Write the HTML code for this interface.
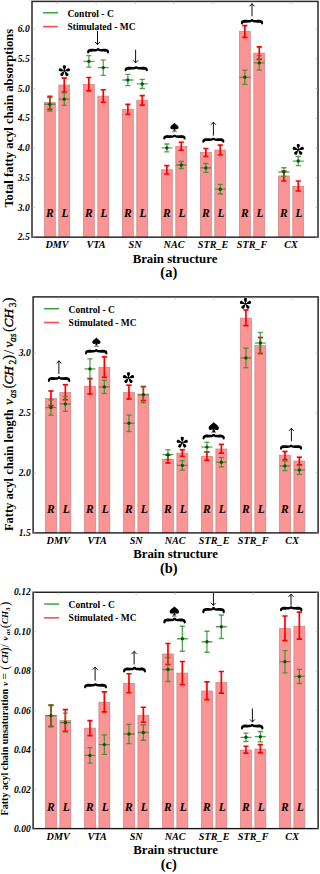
<!DOCTYPE html><html><head><meta charset="utf-8"><style>html,body{margin:0;padding:0;background:#fff;overflow:hidden;width:320px;height:874px;}svg{display:block;}</style></head><body>
<svg width="320" height="874" viewBox="0 0 320 874">
<rect x="0" y="0" width="320" height="874" fill="#fff"/>
<clipPath id="clipa"><rect x="32" y="1.4" width="286" height="235.75"/></clipPath>
<g clip-path="url(#clipa)">
<rect x="44.4" y="102.5" width="10.9" height="136.65" fill="#fb9595" stroke="#c98282" stroke-width="0.7"/>
<rect x="58.8" y="85" width="10.9" height="154.15" fill="#fb9595" stroke="#c98282" stroke-width="0.7"/>
<rect x="83.4" y="84.4" width="10.9" height="154.75" fill="#fb9595" stroke="#c98282" stroke-width="0.7"/>
<rect x="97.8" y="96.1" width="10.9" height="143.05" fill="#fb9595" stroke="#c98282" stroke-width="0.7"/>
<rect x="122.4" y="109.4" width="10.9" height="129.75" fill="#fb9595" stroke="#c98282" stroke-width="0.7"/>
<rect x="136.8" y="100.25" width="10.9" height="138.9" fill="#fb9595" stroke="#c98282" stroke-width="0.7"/>
<rect x="161.4" y="169.75" width="10.9" height="69.4" fill="#fb9595" stroke="#c98282" stroke-width="0.7"/>
<rect x="175.8" y="146.25" width="10.9" height="92.9" fill="#fb9595" stroke="#c98282" stroke-width="0.7"/>
<rect x="200.4" y="152.5" width="10.9" height="86.65" fill="#fb9595" stroke="#c98282" stroke-width="0.7"/>
<rect x="214.8" y="150" width="10.9" height="89.15" fill="#fb9595" stroke="#c98282" stroke-width="0.7"/>
<rect x="239.4" y="31.4" width="10.9" height="207.75" fill="#fb9595" stroke="#c98282" stroke-width="0.7"/>
<rect x="253.8" y="53.1" width="10.9" height="186.05" fill="#fb9595" stroke="#c98282" stroke-width="0.7"/>
<rect x="278.4" y="176" width="10.9" height="63.15" fill="#fb9595" stroke="#c98282" stroke-width="0.7"/>
<rect x="292.8" y="186.25" width="10.9" height="52.9" fill="#fb9595" stroke="#c98282" stroke-width="0.7"/>
<text x="49.85" y="216.9" font-family='"Liberation Serif", serif' font-weight="bold" font-style="italic" font-size="11.5" text-anchor="middle">R</text>
<text x="65.05" y="216.9" font-family='"Liberation Serif", serif' font-weight="bold" font-style="italic" font-size="11.5" text-anchor="middle">L</text>
<text x="88.85" y="216.9" font-family='"Liberation Serif", serif' font-weight="bold" font-style="italic" font-size="11.5" text-anchor="middle">R</text>
<text x="104.05" y="216.9" font-family='"Liberation Serif", serif' font-weight="bold" font-style="italic" font-size="11.5" text-anchor="middle">L</text>
<text x="127.85" y="216.9" font-family='"Liberation Serif", serif' font-weight="bold" font-style="italic" font-size="11.5" text-anchor="middle">R</text>
<text x="143.05" y="216.9" font-family='"Liberation Serif", serif' font-weight="bold" font-style="italic" font-size="11.5" text-anchor="middle">L</text>
<text x="166.85" y="216.9" font-family='"Liberation Serif", serif' font-weight="bold" font-style="italic" font-size="11.5" text-anchor="middle">R</text>
<text x="182.05" y="216.9" font-family='"Liberation Serif", serif' font-weight="bold" font-style="italic" font-size="11.5" text-anchor="middle">L</text>
<text x="205.85" y="216.9" font-family='"Liberation Serif", serif' font-weight="bold" font-style="italic" font-size="11.5" text-anchor="middle">R</text>
<text x="221.05" y="216.9" font-family='"Liberation Serif", serif' font-weight="bold" font-style="italic" font-size="11.5" text-anchor="middle">L</text>
<text x="244.85" y="216.9" font-family='"Liberation Serif", serif' font-weight="bold" font-style="italic" font-size="11.5" text-anchor="middle">R</text>
<text x="260.05" y="216.9" font-family='"Liberation Serif", serif' font-weight="bold" font-style="italic" font-size="11.5" text-anchor="middle">L</text>
<text x="283.85" y="216.9" font-family='"Liberation Serif", serif' font-weight="bold" font-style="italic" font-size="11.5" text-anchor="middle">R</text>
<text x="299.05" y="216.9" font-family='"Liberation Serif", serif' font-weight="bold" font-style="italic" font-size="11.5" text-anchor="middle">L</text>
<g stroke="#ff0000" stroke-width="1.7"><line x1="49.85" y1="96.35" x2="49.85" y2="109.25"/><line x1="47.25" y1="96.35" x2="52.45" y2="96.35"/><line x1="47.25" y1="109.25" x2="52.45" y2="109.25"/></g>
<g stroke="#ff0000" stroke-width="1.7"><line x1="64.25" y1="78.2" x2="64.25" y2="92"/><line x1="61.65" y1="78.2" x2="66.85" y2="78.2"/><line x1="61.65" y1="92" x2="66.85" y2="92"/></g>
<g stroke="#2a8f2a" stroke-width="1.3" stroke-opacity="0.8"><line x1="49.85" y1="97.5" x2="49.85" y2="111"/><line x1="47.25" y1="97.5" x2="52.45" y2="97.5"/><line x1="47.25" y1="111" x2="52.45" y2="111"/><line x1="44.4" y1="104.25" x2="55.3" y2="104.25"/></g><circle cx="49.85" cy="104.25" r="1.7" fill="#005a00"/>
<g stroke="#2a8f2a" stroke-width="1.3" stroke-opacity="0.8"><line x1="64.25" y1="92.9" x2="64.25" y2="105.4"/><line x1="61.65" y1="92.9" x2="66.85" y2="92.9"/><line x1="61.65" y1="105.4" x2="66.85" y2="105.4"/><line x1="58.8" y1="99.15" x2="69.7" y2="99.15"/></g><circle cx="64.25" cy="99.15" r="1.7" fill="#005a00"/>
<g stroke="#ff0000" stroke-width="1.7"><line x1="88.85" y1="77.5" x2="88.85" y2="90.8"/><line x1="86.25" y1="77.5" x2="91.45" y2="77.5"/><line x1="86.25" y1="90.8" x2="91.45" y2="90.8"/></g>
<g stroke="#ff0000" stroke-width="1.7"><line x1="103.25" y1="89.75" x2="103.25" y2="102.25"/><line x1="100.65" y1="89.75" x2="105.85" y2="89.75"/><line x1="100.65" y1="102.25" x2="105.85" y2="102.25"/></g>
<g stroke="#2a8f2a" stroke-width="1.3" stroke-opacity="0.8"><line x1="88.85" y1="55.6" x2="88.85" y2="67.2"/><line x1="86.25" y1="55.6" x2="91.45" y2="55.6"/><line x1="86.25" y1="67.2" x2="91.45" y2="67.2"/><line x1="83.4" y1="61.4" x2="94.3" y2="61.4"/></g><circle cx="88.85" cy="61.4" r="1.7" fill="#005a00"/>
<g stroke="#2a8f2a" stroke-width="1.3" stroke-opacity="0.8"><line x1="103.25" y1="59.9" x2="103.25" y2="75.3"/><line x1="100.65" y1="59.9" x2="105.85" y2="59.9"/><line x1="100.65" y1="75.3" x2="105.85" y2="75.3"/><line x1="97.8" y1="67.6" x2="108.7" y2="67.6"/></g><circle cx="103.25" cy="67.6" r="1.7" fill="#005a00"/>
<g stroke="#ff0000" stroke-width="1.7"><line x1="127.85" y1="104.4" x2="127.85" y2="114.4"/><line x1="125.25" y1="104.4" x2="130.45" y2="104.4"/><line x1="125.25" y1="114.4" x2="130.45" y2="114.4"/></g>
<g stroke="#ff0000" stroke-width="1.7"><line x1="142.25" y1="95.6" x2="142.25" y2="105.2"/><line x1="139.65" y1="95.6" x2="144.85" y2="95.6"/><line x1="139.65" y1="105.2" x2="144.85" y2="105.2"/></g>
<g stroke="#2a8f2a" stroke-width="1.3" stroke-opacity="0.8"><line x1="127.85" y1="74.4" x2="127.85" y2="85.6"/><line x1="125.25" y1="74.4" x2="130.45" y2="74.4"/><line x1="125.25" y1="85.6" x2="130.45" y2="85.6"/><line x1="122.4" y1="80" x2="133.3" y2="80"/></g><circle cx="127.85" cy="80" r="1.7" fill="#005a00"/>
<g stroke="#2a8f2a" stroke-width="1.3" stroke-opacity="0.8"><line x1="142.25" y1="79.4" x2="142.25" y2="88.5"/><line x1="139.65" y1="79.4" x2="144.85" y2="79.4"/><line x1="139.65" y1="88.5" x2="144.85" y2="88.5"/><line x1="136.8" y1="83.95" x2="147.7" y2="83.95"/></g><circle cx="142.25" cy="83.95" r="1.7" fill="#005a00"/>
<g stroke="#ff0000" stroke-width="1.7"><line x1="166.85" y1="165.6" x2="166.85" y2="174"/><line x1="164.25" y1="165.6" x2="169.45" y2="165.6"/><line x1="164.25" y1="174" x2="169.45" y2="174"/></g>
<g stroke="#ff0000" stroke-width="1.7"><line x1="181.25" y1="142.25" x2="181.25" y2="150.25"/><line x1="178.65" y1="142.25" x2="183.85" y2="142.25"/><line x1="178.65" y1="150.25" x2="183.85" y2="150.25"/></g>
<g stroke="#2a8f2a" stroke-width="1.3" stroke-opacity="0.8"><line x1="166.85" y1="144" x2="166.85" y2="151.9"/><line x1="164.25" y1="144" x2="169.45" y2="144"/><line x1="164.25" y1="151.9" x2="169.45" y2="151.9"/><line x1="161.4" y1="147.95" x2="172.3" y2="147.95"/></g><circle cx="166.85" cy="147.95" r="1.7" fill="#005a00"/>
<g stroke="#2a8f2a" stroke-width="1.3" stroke-opacity="0.8"><line x1="181.25" y1="161.5" x2="181.25" y2="168.5"/><line x1="178.65" y1="161.5" x2="183.85" y2="161.5"/><line x1="178.65" y1="168.5" x2="183.85" y2="168.5"/><line x1="175.8" y1="165" x2="186.7" y2="165"/></g><circle cx="181.25" cy="165" r="1.7" fill="#005a00"/>
<g stroke="#ff0000" stroke-width="1.7"><line x1="205.85" y1="148.5" x2="205.85" y2="156.5"/><line x1="203.25" y1="148.5" x2="208.45" y2="148.5"/><line x1="203.25" y1="156.5" x2="208.45" y2="156.5"/></g>
<g stroke="#ff0000" stroke-width="1.7"><line x1="220.25" y1="145.2" x2="220.25" y2="155"/><line x1="217.65" y1="145.2" x2="222.85" y2="145.2"/><line x1="217.65" y1="155" x2="222.85" y2="155"/></g>
<g stroke="#2a8f2a" stroke-width="1.3" stroke-opacity="0.8"><line x1="205.85" y1="163.5" x2="205.85" y2="172.3"/><line x1="203.25" y1="163.5" x2="208.45" y2="163.5"/><line x1="203.25" y1="172.3" x2="208.45" y2="172.3"/><line x1="200.4" y1="167.9" x2="211.3" y2="167.9"/></g><circle cx="205.85" cy="167.9" r="1.7" fill="#005a00"/>
<g stroke="#2a8f2a" stroke-width="1.3" stroke-opacity="0.8"><line x1="220.25" y1="184.4" x2="220.25" y2="194"/><line x1="217.65" y1="184.4" x2="222.85" y2="184.4"/><line x1="217.65" y1="194" x2="222.85" y2="194"/><line x1="214.8" y1="189.2" x2="225.7" y2="189.2"/></g><circle cx="220.25" cy="189.2" r="1.7" fill="#005a00"/>
<g stroke="#ff0000" stroke-width="1.7"><line x1="244.85" y1="25.6" x2="244.85" y2="37.4"/><line x1="242.25" y1="25.6" x2="247.45" y2="25.6"/><line x1="242.25" y1="37.4" x2="247.45" y2="37.4"/></g>
<g stroke="#ff0000" stroke-width="1.7"><line x1="259.25" y1="46.9" x2="259.25" y2="59.4"/><line x1="256.65" y1="46.9" x2="261.85" y2="46.9"/><line x1="256.65" y1="59.4" x2="261.85" y2="59.4"/></g>
<g stroke="#2a8f2a" stroke-width="1.3" stroke-opacity="0.8"><line x1="244.85" y1="70.2" x2="244.85" y2="84.4"/><line x1="242.25" y1="70.2" x2="247.45" y2="70.2"/><line x1="242.25" y1="84.4" x2="247.45" y2="84.4"/><line x1="239.4" y1="77.3" x2="250.3" y2="77.3"/></g><circle cx="244.85" cy="77.3" r="1.7" fill="#005a00"/>
<g stroke="#2a8f2a" stroke-width="1.3" stroke-opacity="0.8"><line x1="259.25" y1="55.6" x2="259.25" y2="70.2"/><line x1="256.65" y1="55.6" x2="261.85" y2="55.6"/><line x1="256.65" y1="70.2" x2="261.85" y2="70.2"/><line x1="253.8" y1="62.9" x2="264.7" y2="62.9"/></g><circle cx="259.25" cy="62.9" r="1.7" fill="#005a00"/>
<g stroke="#ff0000" stroke-width="1.7"><line x1="283.85" y1="171" x2="283.85" y2="181"/><line x1="281.25" y1="171" x2="286.45" y2="171"/><line x1="281.25" y1="181" x2="286.45" y2="181"/></g>
<g stroke="#ff0000" stroke-width="1.7"><line x1="298.25" y1="181" x2="298.25" y2="191"/><line x1="295.65" y1="181" x2="300.85" y2="181"/><line x1="295.65" y1="191" x2="300.85" y2="191"/></g>
<g stroke="#2a8f2a" stroke-width="1.3" stroke-opacity="0.8"><line x1="283.85" y1="167.75" x2="283.85" y2="176.25"/><line x1="281.25" y1="167.75" x2="286.45" y2="167.75"/><line x1="281.25" y1="176.25" x2="286.45" y2="176.25"/><line x1="278.4" y1="172" x2="289.3" y2="172"/></g><circle cx="283.85" cy="172" r="1.7" fill="#005a00"/>
<g stroke="#2a8f2a" stroke-width="1.3" stroke-opacity="0.8"><line x1="298.25" y1="156.5" x2="298.25" y2="165.6"/><line x1="295.65" y1="156.5" x2="300.85" y2="156.5"/><line x1="295.65" y1="165.6" x2="300.85" y2="165.6"/><line x1="292.8" y1="161.05" x2="303.7" y2="161.05"/></g><circle cx="298.25" cy="161.05" r="1.7" fill="#005a00"/>
<g transform="translate(64.4,71.1)"><path transform="rotate(0)" d="M0,0 C-0.5,-1.5 -1.6,-3.2 -1.6,-4.4 C-1.6,-5.3 -0.8,-5.8 0,-5.8 C0.8,-5.8 1.6,-5.3 1.6,-4.4 C1.6,-3.2 0.5,-1.5 0,0Z" fill="#000"/><path transform="rotate(72)" d="M0,0 C-0.5,-1.5 -1.6,-3.2 -1.6,-4.4 C-1.6,-5.3 -0.8,-5.8 0,-5.8 C0.8,-5.8 1.6,-5.3 1.6,-4.4 C1.6,-3.2 0.5,-1.5 0,0Z" fill="#000"/><path transform="rotate(144)" d="M0,0 C-0.5,-1.5 -1.6,-3.2 -1.6,-4.4 C-1.6,-5.3 -0.8,-5.8 0,-5.8 C0.8,-5.8 1.6,-5.3 1.6,-4.4 C1.6,-3.2 0.5,-1.5 0,0Z" fill="#000"/><path transform="rotate(216)" d="M0,0 C-0.5,-1.5 -1.6,-3.2 -1.6,-4.4 C-1.6,-5.3 -0.8,-5.8 0,-5.8 C0.8,-5.8 1.6,-5.3 1.6,-4.4 C1.6,-3.2 0.5,-1.5 0,0Z" fill="#000"/><path transform="rotate(288)" d="M0,0 C-0.5,-1.5 -1.6,-3.2 -1.6,-4.4 C-1.6,-5.3 -0.8,-5.8 0,-5.8 C0.8,-5.8 1.6,-5.3 1.6,-4.4 C1.6,-3.2 0.5,-1.5 0,0Z" fill="#000"/><circle r="0.9" fill="#000"/></g>
<line x1="97.5" y1="31" x2="97.5" y2="44.75" stroke="#000" stroke-width="0.95"/><path d="M95,41.95 L97.5,44.45 L100,41.95" fill="none" stroke="#000" stroke-width="0.95"/>
<g fill="#000"><path d="M89.15,52.59 L89.33,52.1 L89.52,51.92 L89.66,51.87 L89.78,51.83 L90.03,51.76 L90.43,51.7 L90.99,51.66 L91.72,51.64 L92.47,51.61 L92.98,51.59 L93.32,51.58 L93.61,51.57 L93.92,51.56 L94.31,51.53 L94.86,51.47 L95.66,51.39 L96.3,51.3 L96.95,51.13 L97.54,50.86 L98.06,50.5 L98.49,50.05 L98.82,49.51 L99.01,48.92 L99.04,48.41 L97.16,48.19 L97.1,48.47 L97.02,48.6 L96.92,48.71 L96.77,48.81 L96.56,48.9 L96.3,48.97 L95.98,49 L95.54,48.99 L94.78,48.96 L94.27,48.94 L93.94,48.91 L93.69,48.88 L93.42,48.85 L93.05,48.81 L92.5,48.77 L91.68,48.74 L90.79,48.77 L89.94,48.89 L89.14,49.13 L88.39,49.51 L87.74,50.08 L87.32,50.84 L87.18,51.67 L87.25,52.41Z"/><path d="M107.05,52.59 L106.87,52.1 L106.68,51.92 L106.54,51.87 L106.42,51.83 L106.17,51.76 L105.77,51.7 L105.21,51.66 L104.48,51.64 L103.73,51.61 L103.22,51.59 L102.88,51.58 L102.59,51.57 L102.28,51.56 L101.89,51.53 L101.34,51.47 L100.54,51.39 L99.9,51.3 L99.25,51.13 L98.66,50.86 L98.14,50.5 L97.71,50.05 L97.38,49.51 L97.19,48.92 L97.16,48.41 L99.04,48.19 L99.1,48.47 L99.18,48.6 L99.28,48.71 L99.43,48.81 L99.64,48.9 L99.9,48.97 L100.22,49 L100.66,48.99 L101.42,48.96 L101.93,48.94 L102.26,48.91 L102.51,48.88 L102.78,48.85 L103.15,48.81 L103.7,48.77 L104.52,48.74 L105.41,48.77 L106.26,48.89 L107.06,49.13 L107.81,49.51 L108.46,50.08 L108.88,50.84 L109.02,51.67 L108.95,52.41Z"/><circle cx="88.2" cy="52.5" r="0.95"/><circle cx="108" cy="52.5" r="0.95"/></g>
<line x1="135.6" y1="49.75" x2="135.6" y2="63.1" stroke="#000" stroke-width="0.95"/><path d="M133.1,60.3 L135.6,62.8 L138.1,60.3" fill="none" stroke="#000" stroke-width="0.95"/>
<g fill="#000"><path d="M126.6,70.45 L126.76,70.03 L126.92,69.9 L127.06,69.9 L127.19,69.85 L127.45,69.79 L127.87,69.73 L128.44,69.69 L129.17,69.68 L129.95,69.67 L130.54,69.65 L131.01,69.63 L131.42,69.62 L131.85,69.59 L132.35,69.56 L132.97,69.5 L133.81,69.41 L134.44,69.33 L135.08,69.16 L135.67,68.9 L136.18,68.57 L136.61,68.15 L136.94,67.66 L137.14,67.1 L137.19,66.63 L135.31,66.37 L135.26,66.59 L135.2,66.67 L135.1,66.76 L134.95,66.86 L134.73,66.96 L134.46,67.03 L134.13,67.06 L133.69,67.05 L132.9,67.02 L132.31,66.99 L131.86,66.96 L131.48,66.92 L131.08,66.88 L130.6,66.84 L129.98,66.8 L129.13,66.78 L128.24,66.82 L127.4,66.94 L126.61,67.17 L125.88,67.52 L125.24,68.04 L124.82,68.77 L124.65,69.56 L124.7,70.25Z"/><path d="M145.9,70.45 L145.74,70.03 L145.58,69.9 L145.44,69.9 L145.31,69.85 L145.05,69.79 L144.63,69.73 L144.06,69.69 L143.33,69.68 L142.55,69.67 L141.96,69.65 L141.49,69.63 L141.08,69.62 L140.65,69.59 L140.15,69.56 L139.53,69.5 L138.69,69.41 L138.06,69.33 L137.42,69.16 L136.83,68.9 L136.32,68.57 L135.89,68.15 L135.56,67.66 L135.36,67.1 L135.31,66.63 L137.19,66.37 L137.24,66.59 L137.3,66.67 L137.4,66.76 L137.55,66.86 L137.77,66.96 L138.04,67.03 L138.37,67.06 L138.81,67.05 L139.6,67.02 L140.19,66.99 L140.64,66.96 L141.02,66.92 L141.42,66.88 L141.9,66.84 L142.52,66.8 L143.37,66.78 L144.26,66.82 L145.1,66.94 L145.89,67.17 L146.62,67.52 L147.26,68.04 L147.68,68.77 L147.85,69.56 L147.8,70.25Z"/><circle cx="125.65" cy="70.35" r="0.95"/><circle cx="146.85" cy="70.35" r="0.95"/></g>
<g transform="translate(174.45,122.8) scale(1)"><path d="M0,0 C1.0,1.6 4.1,2.8 4.1,4.8 C4.1,6.6 2.0,7.0 0.5,5.9 L1.3,8.0 L-1.3,8.0 L-0.5,5.9 C-2.0,7.0 -4.1,6.6 -4.1,4.8 C-4.1,2.8 -1.0,1.6 0,0Z" fill="#000"/></g><path d="M172.05,131.7 L176.85,131.7" fill="none" stroke="#555" stroke-width="0.8"/>
<g fill="#000"><path d="M165.24,138.7 L165.41,138.32 L165.56,138.22 L165.69,138.23 L165.83,138.18 L166.09,138.12 L166.51,138.06 L167.09,138.03 L167.82,138.01 L168.58,138 L169.12,137.98 L169.51,137.96 L169.84,137.95 L170.19,137.93 L170.62,137.9 L171.2,137.84 L172.01,137.75 L172.64,137.67 L173.28,137.5 L173.86,137.25 L174.37,136.92 L174.79,136.51 L175.13,136.04 L175.34,135.49 L175.39,135.03 L173.51,134.77 L173.47,134.95 L173.41,135.01 L173.31,135.1 L173.16,135.2 L172.94,135.29 L172.66,135.36 L172.33,135.39 L171.89,135.38 L171.12,135.35 L170.58,135.32 L170.21,135.29 L169.91,135.26 L169.6,135.22 L169.18,135.18 L168.61,135.14 L167.78,135.12 L166.89,135.15 L166.05,135.27 L165.27,135.49 L164.55,135.83 L163.91,136.34 L163.48,137.05 L163.31,137.83 L163.36,138.5Z"/><path d="M183.66,138.7 L183.49,138.32 L183.34,138.22 L183.21,138.23 L183.07,138.18 L182.81,138.12 L182.39,138.06 L181.81,138.03 L181.08,138.01 L180.32,138 L179.78,137.98 L179.39,137.96 L179.06,137.95 L178.71,137.93 L178.28,137.9 L177.7,137.84 L176.89,137.75 L176.26,137.67 L175.62,137.5 L175.04,137.25 L174.53,136.92 L174.11,136.51 L173.77,136.04 L173.56,135.49 L173.51,135.03 L175.39,134.77 L175.43,134.95 L175.49,135.01 L175.59,135.1 L175.74,135.2 L175.96,135.29 L176.24,135.36 L176.57,135.39 L177.01,135.38 L177.78,135.35 L178.32,135.32 L178.69,135.29 L178.99,135.26 L179.3,135.22 L179.72,135.18 L180.29,135.14 L181.12,135.12 L182.01,135.15 L182.85,135.27 L183.63,135.49 L184.35,135.83 L184.99,136.34 L185.42,137.05 L185.59,137.83 L185.54,138.5Z"/><circle cx="164.3" cy="138.6" r="0.95"/><circle cx="184.6" cy="138.6" r="0.95"/></g>
<line x1="213.4" y1="121.9" x2="213.4" y2="135.6" stroke="#000" stroke-width="0.95"/><path d="M210.9,124.7 L213.4,122.2 L215.9,124.7" fill="none" stroke="#000" stroke-width="0.95"/>
<g fill="#000"><path d="M204.25,141.94 L204.43,141.48 L204.61,141.33 L204.74,141.3 L204.87,141.25 L205.12,141.19 L205.52,141.13 L206.09,141.09 L206.82,141.07 L207.57,141.05 L208.1,141.03 L208.47,141.02 L208.77,141 L209.1,140.99 L209.51,140.96 L210.08,140.9 L210.88,140.82 L211.52,140.73 L212.17,140.56 L212.75,140.29 L213.27,139.94 L213.7,139.51 L214.03,138.99 L214.23,138.41 L214.27,137.92 L212.38,137.68 L212.33,137.93 L212.26,138.04 L212.16,138.15 L212,138.25 L211.8,138.34 L211.53,138.41 L211.21,138.44 L210.77,138.43 L210,138.4 L209.47,138.37 L209.12,138.35 L208.85,138.32 L208.56,138.28 L208.17,138.24 L207.6,138.2 L206.78,138.18 L205.89,138.21 L205.04,138.33 L204.25,138.55 L203.51,138.92 L202.86,139.47 L202.44,140.22 L202.29,141.04 L202.35,141.76Z"/><path d="M222.4,141.94 L222.22,141.48 L222.04,141.33 L221.91,141.3 L221.78,141.25 L221.53,141.19 L221.13,141.13 L220.56,141.09 L219.83,141.07 L219.08,141.05 L218.55,141.03 L218.18,141.02 L217.88,141 L217.55,140.99 L217.14,140.96 L216.57,140.9 L215.77,140.82 L215.13,140.73 L214.48,140.56 L213.9,140.29 L213.38,139.94 L212.95,139.51 L212.62,138.99 L212.42,138.41 L212.38,137.92 L214.27,137.68 L214.32,137.93 L214.39,138.04 L214.49,138.15 L214.65,138.25 L214.85,138.34 L215.12,138.41 L215.44,138.44 L215.88,138.43 L216.65,138.4 L217.18,138.37 L217.53,138.35 L217.8,138.32 L218.09,138.28 L218.48,138.24 L219.05,138.2 L219.87,138.18 L220.76,138.21 L221.61,138.33 L222.4,138.55 L223.14,138.92 L223.79,139.47 L224.21,140.22 L224.36,141.04 L224.3,141.76Z"/><circle cx="203.3" cy="141.85" r="0.95"/><circle cx="223.35" cy="141.85" r="0.95"/></g>
<line x1="252" y1="3.5" x2="252" y2="16.25" stroke="#000" stroke-width="0.95"/><path d="M249.5,6.3 L252,3.8 L254.5,6.3" fill="none" stroke="#000" stroke-width="0.95"/>
<g fill="#000"><path d="M242.85,23.59 L243.03,23.12 L243.21,22.95 L243.35,22.92 L243.47,22.88 L243.72,22.81 L244.12,22.75 L244.69,22.71 L245.42,22.69 L246.18,22.67 L246.71,22.65 L247.09,22.64 L247.41,22.63 L247.75,22.61 L248.18,22.58 L248.75,22.52 L249.56,22.44 L250.2,22.35 L250.84,22.18 L251.43,21.91 L251.95,21.56 L252.38,21.12 L252.71,20.6 L252.9,20.01 L252.94,19.51 L251.06,19.29 L251.01,19.55 L250.93,19.66 L250.83,19.77 L250.67,19.87 L250.47,19.96 L250.2,20.03 L249.88,20.06 L249.44,20.05 L248.67,20.02 L248.14,20 L247.77,19.97 L247.49,19.94 L247.18,19.9 L246.78,19.87 L246.21,19.83 L245.38,19.8 L244.49,19.83 L243.64,19.95 L242.84,20.18 L242.1,20.55 L241.46,21.11 L241.04,21.86 L240.89,22.68 L240.95,23.41Z"/><path d="M261.15,23.59 L260.97,23.12 L260.79,22.95 L260.65,22.92 L260.53,22.88 L260.28,22.81 L259.88,22.75 L259.31,22.71 L258.58,22.69 L257.82,22.67 L257.29,22.65 L256.91,22.64 L256.59,22.63 L256.25,22.61 L255.82,22.58 L255.25,22.52 L254.44,22.44 L253.8,22.35 L253.16,22.18 L252.57,21.91 L252.05,21.56 L251.62,21.12 L251.29,20.6 L251.1,20.01 L251.06,19.51 L252.94,19.29 L252.99,19.55 L253.07,19.66 L253.17,19.77 L253.33,19.87 L253.53,19.96 L253.8,20.03 L254.12,20.06 L254.56,20.05 L255.33,20.02 L255.86,20 L256.23,19.97 L256.51,19.94 L256.82,19.9 L257.22,19.87 L257.79,19.83 L258.62,19.8 L259.51,19.83 L260.36,19.95 L261.16,20.18 L261.9,20.55 L262.54,21.11 L262.96,21.86 L263.11,22.68 L263.05,23.41Z"/><circle cx="241.9" cy="23.5" r="0.95"/><circle cx="262.1" cy="23.5" r="0.95"/></g>
<g transform="translate(298.25,149.7)"><path transform="rotate(0)" d="M0,0 C-0.5,-1.5 -1.6,-3.2 -1.6,-4.4 C-1.6,-5.3 -0.8,-5.8 0,-5.8 C0.8,-5.8 1.6,-5.3 1.6,-4.4 C1.6,-3.2 0.5,-1.5 0,0Z" fill="#000"/><path transform="rotate(72)" d="M0,0 C-0.5,-1.5 -1.6,-3.2 -1.6,-4.4 C-1.6,-5.3 -0.8,-5.8 0,-5.8 C0.8,-5.8 1.6,-5.3 1.6,-4.4 C1.6,-3.2 0.5,-1.5 0,0Z" fill="#000"/><path transform="rotate(144)" d="M0,0 C-0.5,-1.5 -1.6,-3.2 -1.6,-4.4 C-1.6,-5.3 -0.8,-5.8 0,-5.8 C0.8,-5.8 1.6,-5.3 1.6,-4.4 C1.6,-3.2 0.5,-1.5 0,0Z" fill="#000"/><path transform="rotate(216)" d="M0,0 C-0.5,-1.5 -1.6,-3.2 -1.6,-4.4 C-1.6,-5.3 -0.8,-5.8 0,-5.8 C0.8,-5.8 1.6,-5.3 1.6,-4.4 C1.6,-3.2 0.5,-1.5 0,0Z" fill="#000"/><path transform="rotate(288)" d="M0,0 C-0.5,-1.5 -1.6,-3.2 -1.6,-4.4 C-1.6,-5.3 -0.8,-5.8 0,-5.8 C0.8,-5.8 1.6,-5.3 1.6,-4.4 C1.6,-3.2 0.5,-1.5 0,0Z" fill="#000"/><circle r="0.9" fill="#000"/></g>
</g>
<line x1="43" y1="12.8" x2="58" y2="12.8" stroke="#2ca02c" stroke-width="1.4"/>
<line x1="43" y1="26.6" x2="58" y2="26.6" stroke="#ff4d4d" stroke-width="1.6"/>
<text x="67.5" y="16.6" font-family='"Liberation Serif", serif' font-weight="bold" font-size="9.5">Control - C</text>
<text x="67.5" y="29.9" font-family='"Liberation Serif", serif' font-weight="bold" font-size="9.5">Stimulated - MC</text>
<rect x="32" y="1.4" width="286" height="235.75" fill="none" stroke="#2a2a2a" stroke-width="1.5"/>
<line x1="57.05" y1="1.4" x2="57.05" y2="3.9" stroke="#999" stroke-width="0.6"/>
<line x1="57.05" y1="237.15" x2="57.05" y2="234.65" stroke="#999" stroke-width="0.6"/>
<line x1="96.05" y1="1.4" x2="96.05" y2="3.9" stroke="#999" stroke-width="0.6"/>
<line x1="96.05" y1="237.15" x2="96.05" y2="234.65" stroke="#999" stroke-width="0.6"/>
<line x1="135.05" y1="1.4" x2="135.05" y2="3.9" stroke="#999" stroke-width="0.6"/>
<line x1="135.05" y1="237.15" x2="135.05" y2="234.65" stroke="#999" stroke-width="0.6"/>
<line x1="174.05" y1="1.4" x2="174.05" y2="3.9" stroke="#999" stroke-width="0.6"/>
<line x1="174.05" y1="237.15" x2="174.05" y2="234.65" stroke="#999" stroke-width="0.6"/>
<line x1="213.05" y1="1.4" x2="213.05" y2="3.9" stroke="#999" stroke-width="0.6"/>
<line x1="213.05" y1="237.15" x2="213.05" y2="234.65" stroke="#999" stroke-width="0.6"/>
<line x1="252.05" y1="1.4" x2="252.05" y2="3.9" stroke="#999" stroke-width="0.6"/>
<line x1="252.05" y1="237.15" x2="252.05" y2="234.65" stroke="#999" stroke-width="0.6"/>
<line x1="291.05" y1="1.4" x2="291.05" y2="3.9" stroke="#999" stroke-width="0.6"/>
<line x1="291.05" y1="237.15" x2="291.05" y2="234.65" stroke="#999" stroke-width="0.6"/>
<line x1="32" y1="29.06" x2="34.5" y2="29.06" stroke="#999" stroke-width="0.6"/>
<line x1="318" y1="29.06" x2="315.5" y2="29.06" stroke="#999" stroke-width="0.6"/>
<text x="29.7" y="32.21" font-family='"Liberation Serif", serif' font-weight="bold" font-style="italic" font-size="9.6" text-anchor="end">6.0</text>
<line x1="32" y1="58.8" x2="34.5" y2="58.8" stroke="#999" stroke-width="0.6"/>
<line x1="318" y1="58.8" x2="315.5" y2="58.8" stroke="#999" stroke-width="0.6"/>
<text x="29.7" y="61.95" font-family='"Liberation Serif", serif' font-weight="bold" font-style="italic" font-size="9.6" text-anchor="end">5.5</text>
<line x1="32" y1="88.5" x2="34.5" y2="88.5" stroke="#999" stroke-width="0.6"/>
<line x1="318" y1="88.5" x2="315.5" y2="88.5" stroke="#999" stroke-width="0.6"/>
<text x="29.7" y="91.65" font-family='"Liberation Serif", serif' font-weight="bold" font-style="italic" font-size="9.6" text-anchor="end">5.0</text>
<line x1="32" y1="118.2" x2="34.5" y2="118.2" stroke="#999" stroke-width="0.6"/>
<line x1="318" y1="118.2" x2="315.5" y2="118.2" stroke="#999" stroke-width="0.6"/>
<text x="29.7" y="121.35" font-family='"Liberation Serif", serif' font-weight="bold" font-style="italic" font-size="9.6" text-anchor="end">4.5</text>
<line x1="32" y1="148" x2="34.5" y2="148" stroke="#999" stroke-width="0.6"/>
<line x1="318" y1="148" x2="315.5" y2="148" stroke="#999" stroke-width="0.6"/>
<text x="29.7" y="151.15" font-family='"Liberation Serif", serif' font-weight="bold" font-style="italic" font-size="9.6" text-anchor="end">4.0</text>
<line x1="32" y1="177.7" x2="34.5" y2="177.7" stroke="#999" stroke-width="0.6"/>
<line x1="318" y1="177.7" x2="315.5" y2="177.7" stroke="#999" stroke-width="0.6"/>
<text x="29.7" y="180.85" font-family='"Liberation Serif", serif' font-weight="bold" font-style="italic" font-size="9.6" text-anchor="end">3.5</text>
<line x1="32" y1="207.4" x2="34.5" y2="207.4" stroke="#999" stroke-width="0.6"/>
<line x1="318" y1="207.4" x2="315.5" y2="207.4" stroke="#999" stroke-width="0.6"/>
<text x="29.7" y="210.55" font-family='"Liberation Serif", serif' font-weight="bold" font-style="italic" font-size="9.6" text-anchor="end">3.0</text>
<line x1="32" y1="237.15" x2="34.5" y2="237.15" stroke="#999" stroke-width="0.6"/>
<line x1="318" y1="237.15" x2="315.5" y2="237.15" stroke="#999" stroke-width="0.6"/>
<text x="29.7" y="240.3" font-family='"Liberation Serif", serif' font-weight="bold" font-style="italic" font-size="9.6" text-anchor="end">2.5</text>
<text x="57.05" y="248.3" font-family='"Liberation Serif", serif' font-weight="bold" font-style="italic" font-size="10.2" text-anchor="middle">DMV</text>
<text x="96.05" y="248.3" font-family='"Liberation Serif", serif' font-weight="bold" font-style="italic" font-size="10.2" text-anchor="middle">VTA</text>
<text x="135.05" y="248.3" font-family='"Liberation Serif", serif' font-weight="bold" font-style="italic" font-size="10.2" text-anchor="middle">SN</text>
<text x="174.05" y="248.3" font-family='"Liberation Serif", serif' font-weight="bold" font-style="italic" font-size="10.2" text-anchor="middle">NAC</text>
<text x="213.05" y="248.3" font-family='"Liberation Serif", serif' font-weight="bold" font-style="italic" font-size="10.2" text-anchor="middle">STR_E</text>
<text x="252.05" y="248.3" font-family='"Liberation Serif", serif' font-weight="bold" font-style="italic" font-size="10.2" text-anchor="middle">STR_F</text>
<text x="291.05" y="248.3" font-family='"Liberation Serif", serif' font-weight="bold" font-style="italic" font-size="10.2" text-anchor="middle">CX</text>
<text x="175" y="262.55" font-family='"Liberation Serif", serif' font-weight="bold" font-size="12.8" text-anchor="middle">Brain structure</text>
<text x="168.8" y="277.45" font-family='"Liberation Serif", serif' font-weight="bold" font-size="14.5" text-anchor="middle">(a)</text>
<clipPath id="clipb"><rect x="33.1" y="296.9" width="285" height="236"/></clipPath>
<g clip-path="url(#clipb)">
<rect x="45.5" y="398.5" width="10.9" height="136.4" fill="#fb9595" stroke="#c98282" stroke-width="0.7"/>
<rect x="59.9" y="392.5" width="10.9" height="142.4" fill="#fb9595" stroke="#c98282" stroke-width="0.7"/>
<rect x="84.5" y="386.25" width="10.9" height="148.65" fill="#fb9595" stroke="#c98282" stroke-width="0.7"/>
<rect x="98.9" y="367.25" width="10.9" height="167.65" fill="#fb9595" stroke="#c98282" stroke-width="0.7"/>
<rect x="123.5" y="392.25" width="10.9" height="142.65" fill="#fb9595" stroke="#c98282" stroke-width="0.7"/>
<rect x="137.9" y="394" width="10.9" height="140.9" fill="#fb9595" stroke="#c98282" stroke-width="0.7"/>
<rect x="162.5" y="459.4" width="10.9" height="75.5" fill="#fb9595" stroke="#c98282" stroke-width="0.7"/>
<rect x="176.9" y="453.1" width="10.9" height="81.8" fill="#fb9595" stroke="#c98282" stroke-width="0.7"/>
<rect x="201.5" y="456.25" width="10.9" height="78.65" fill="#fb9595" stroke="#c98282" stroke-width="0.7"/>
<rect x="215.9" y="449" width="10.9" height="85.9" fill="#fb9595" stroke="#c98282" stroke-width="0.7"/>
<rect x="240.5" y="318.1" width="10.9" height="216.8" fill="#fb9595" stroke="#c98282" stroke-width="0.7"/>
<rect x="254.9" y="345.6" width="10.9" height="189.3" fill="#fb9595" stroke="#c98282" stroke-width="0.7"/>
<rect x="279.5" y="455.25" width="10.9" height="79.65" fill="#fb9595" stroke="#c98282" stroke-width="0.7"/>
<rect x="293.9" y="461" width="10.9" height="73.9" fill="#fb9595" stroke="#c98282" stroke-width="0.7"/>
<text x="50.95" y="513.1" font-family='"Liberation Serif", serif' font-weight="bold" font-style="italic" font-size="11.5" text-anchor="middle">R</text>
<text x="66.15" y="513.1" font-family='"Liberation Serif", serif' font-weight="bold" font-style="italic" font-size="11.5" text-anchor="middle">L</text>
<text x="89.95" y="513.1" font-family='"Liberation Serif", serif' font-weight="bold" font-style="italic" font-size="11.5" text-anchor="middle">R</text>
<text x="105.15" y="513.1" font-family='"Liberation Serif", serif' font-weight="bold" font-style="italic" font-size="11.5" text-anchor="middle">L</text>
<text x="128.95" y="513.1" font-family='"Liberation Serif", serif' font-weight="bold" font-style="italic" font-size="11.5" text-anchor="middle">R</text>
<text x="144.15" y="513.1" font-family='"Liberation Serif", serif' font-weight="bold" font-style="italic" font-size="11.5" text-anchor="middle">L</text>
<text x="167.95" y="513.1" font-family='"Liberation Serif", serif' font-weight="bold" font-style="italic" font-size="11.5" text-anchor="middle">R</text>
<text x="183.15" y="513.1" font-family='"Liberation Serif", serif' font-weight="bold" font-style="italic" font-size="11.5" text-anchor="middle">L</text>
<text x="206.95" y="513.1" font-family='"Liberation Serif", serif' font-weight="bold" font-style="italic" font-size="11.5" text-anchor="middle">R</text>
<text x="222.15" y="513.1" font-family='"Liberation Serif", serif' font-weight="bold" font-style="italic" font-size="11.5" text-anchor="middle">L</text>
<text x="245.95" y="513.1" font-family='"Liberation Serif", serif' font-weight="bold" font-style="italic" font-size="11.5" text-anchor="middle">R</text>
<text x="261.15" y="513.1" font-family='"Liberation Serif", serif' font-weight="bold" font-style="italic" font-size="11.5" text-anchor="middle">L</text>
<text x="284.95" y="513.1" font-family='"Liberation Serif", serif' font-weight="bold" font-style="italic" font-size="11.5" text-anchor="middle">R</text>
<text x="300.15" y="513.1" font-family='"Liberation Serif", serif' font-weight="bold" font-style="italic" font-size="11.5" text-anchor="middle">L</text>
<g stroke="#ff0000" stroke-width="1.7"><line x1="50.95" y1="391" x2="50.95" y2="405.6"/><line x1="48.35" y1="391" x2="53.55" y2="391"/><line x1="48.35" y1="405.6" x2="53.55" y2="405.6"/></g>
<g stroke="#ff0000" stroke-width="1.7"><line x1="65.35" y1="384.75" x2="65.35" y2="399.75"/><line x1="62.75" y1="384.75" x2="67.95" y2="384.75"/><line x1="62.75" y1="399.75" x2="67.95" y2="399.75"/></g>
<g stroke="#2a8f2a" stroke-width="1.3" stroke-opacity="0.8"><line x1="50.95" y1="399.75" x2="50.95" y2="415.25"/><line x1="48.35" y1="399.75" x2="53.55" y2="399.75"/><line x1="48.35" y1="415.25" x2="53.55" y2="415.25"/><line x1="45.5" y1="407.5" x2="56.4" y2="407.5"/></g><circle cx="50.95" cy="407.5" r="1.7" fill="#005a00"/>
<g stroke="#2a8f2a" stroke-width="1.3" stroke-opacity="0.8"><line x1="65.35" y1="396.5" x2="65.35" y2="411.3"/><line x1="62.75" y1="396.5" x2="67.95" y2="396.5"/><line x1="62.75" y1="411.3" x2="67.95" y2="411.3"/><line x1="59.9" y1="403.9" x2="70.8" y2="403.9"/></g><circle cx="65.35" cy="403.9" r="1.7" fill="#005a00"/>
<g stroke="#ff0000" stroke-width="1.7"><line x1="89.95" y1="378.5" x2="89.95" y2="394"/><line x1="87.35" y1="378.5" x2="92.55" y2="378.5"/><line x1="87.35" y1="394" x2="92.55" y2="394"/></g>
<g stroke="#ff0000" stroke-width="1.7"><line x1="104.35" y1="356.9" x2="104.35" y2="377.3"/><line x1="101.75" y1="356.9" x2="106.95" y2="356.9"/><line x1="101.75" y1="377.3" x2="106.95" y2="377.3"/></g>
<g stroke="#2a8f2a" stroke-width="1.3" stroke-opacity="0.8"><line x1="89.95" y1="358.8" x2="89.95" y2="379"/><line x1="87.35" y1="358.8" x2="92.55" y2="358.8"/><line x1="87.35" y1="379" x2="92.55" y2="379"/><line x1="84.5" y1="368.9" x2="95.4" y2="368.9"/></g><circle cx="89.95" cy="368.9" r="1.7" fill="#005a00"/>
<g stroke="#2a8f2a" stroke-width="1.3" stroke-opacity="0.8"><line x1="104.35" y1="380.3" x2="104.35" y2="393.5"/><line x1="101.75" y1="380.3" x2="106.95" y2="380.3"/><line x1="101.75" y1="393.5" x2="106.95" y2="393.5"/><line x1="98.9" y1="386.9" x2="109.8" y2="386.9"/></g><circle cx="104.35" cy="386.9" r="1.7" fill="#005a00"/>
<g stroke="#ff0000" stroke-width="1.7"><line x1="128.95" y1="385.2" x2="128.95" y2="399"/><line x1="126.35" y1="385.2" x2="131.55" y2="385.2"/><line x1="126.35" y1="399" x2="131.55" y2="399"/></g>
<g stroke="#ff0000" stroke-width="1.7"><line x1="143.35" y1="386.5" x2="143.35" y2="400.6"/><line x1="140.75" y1="386.5" x2="145.95" y2="386.5"/><line x1="140.75" y1="400.6" x2="145.95" y2="400.6"/></g>
<g stroke="#2a8f2a" stroke-width="1.3" stroke-opacity="0.8"><line x1="128.95" y1="415" x2="128.95" y2="431.5"/><line x1="126.35" y1="415" x2="131.55" y2="415"/><line x1="126.35" y1="431.5" x2="131.55" y2="431.5"/><line x1="123.5" y1="423.25" x2="134.4" y2="423.25"/></g><circle cx="128.95" cy="423.25" r="1.7" fill="#005a00"/>
<g stroke="#2a8f2a" stroke-width="1.3" stroke-opacity="0.8"><line x1="143.35" y1="386.9" x2="143.35" y2="402.7"/><line x1="140.75" y1="386.9" x2="145.95" y2="386.9"/><line x1="140.75" y1="402.7" x2="145.95" y2="402.7"/><line x1="137.9" y1="394.8" x2="148.8" y2="394.8"/></g><circle cx="143.35" cy="394.8" r="1.7" fill="#005a00"/>
<g stroke="#ff0000" stroke-width="1.7"><line x1="167.95" y1="455.2" x2="167.95" y2="463"/><line x1="165.35" y1="455.2" x2="170.55" y2="455.2"/><line x1="165.35" y1="463" x2="170.55" y2="463"/></g>
<g stroke="#ff0000" stroke-width="1.7"><line x1="182.35" y1="449.75" x2="182.35" y2="456.25"/><line x1="179.75" y1="449.75" x2="184.95" y2="449.75"/><line x1="179.75" y1="456.25" x2="184.95" y2="456.25"/></g>
<g stroke="#2a8f2a" stroke-width="1.3" stroke-opacity="0.8"><line x1="167.95" y1="449.8" x2="167.95" y2="459.4"/><line x1="165.35" y1="449.8" x2="170.55" y2="449.8"/><line x1="165.35" y1="459.4" x2="170.55" y2="459.4"/><line x1="162.5" y1="454.6" x2="173.4" y2="454.6"/></g><circle cx="167.95" cy="454.6" r="1.7" fill="#005a00"/>
<g stroke="#2a8f2a" stroke-width="1.3" stroke-opacity="0.8"><line x1="182.35" y1="460.6" x2="182.35" y2="470.2"/><line x1="179.75" y1="460.6" x2="184.95" y2="460.6"/><line x1="179.75" y1="470.2" x2="184.95" y2="470.2"/><line x1="176.9" y1="465.4" x2="187.8" y2="465.4"/></g><circle cx="182.35" cy="465.4" r="1.7" fill="#005a00"/>
<g stroke="#ff0000" stroke-width="1.7"><line x1="206.95" y1="451.9" x2="206.95" y2="460.3"/><line x1="204.35" y1="451.9" x2="209.55" y2="451.9"/><line x1="204.35" y1="460.3" x2="209.55" y2="460.3"/></g>
<g stroke="#ff0000" stroke-width="1.7"><line x1="221.35" y1="444.4" x2="221.35" y2="453.1"/><line x1="218.75" y1="444.4" x2="223.95" y2="444.4"/><line x1="218.75" y1="453.1" x2="223.95" y2="453.1"/></g>
<g stroke="#2a8f2a" stroke-width="1.3" stroke-opacity="0.8"><line x1="206.95" y1="442.3" x2="206.95" y2="451.9"/><line x1="204.35" y1="442.3" x2="209.55" y2="442.3"/><line x1="204.35" y1="451.9" x2="209.55" y2="451.9"/><line x1="201.5" y1="447.1" x2="212.4" y2="447.1"/></g><circle cx="206.95" cy="447.1" r="1.7" fill="#005a00"/>
<g stroke="#2a8f2a" stroke-width="1.3" stroke-opacity="0.8"><line x1="221.35" y1="457.5" x2="221.35" y2="466.9"/><line x1="218.75" y1="457.5" x2="223.95" y2="457.5"/><line x1="218.75" y1="466.9" x2="223.95" y2="466.9"/><line x1="215.9" y1="462.2" x2="226.8" y2="462.2"/></g><circle cx="221.35" cy="462.2" r="1.7" fill="#005a00"/>
<g stroke="#ff0000" stroke-width="1.7"><line x1="245.95" y1="310" x2="245.95" y2="325.6"/><line x1="243.35" y1="310" x2="248.55" y2="310"/><line x1="243.35" y1="325.6" x2="248.55" y2="325.6"/></g>
<g stroke="#ff0000" stroke-width="1.7"><line x1="260.35" y1="337.5" x2="260.35" y2="353.5"/><line x1="257.75" y1="337.5" x2="262.95" y2="337.5"/><line x1="257.75" y1="353.5" x2="262.95" y2="353.5"/></g>
<g stroke="#2a8f2a" stroke-width="1.3" stroke-opacity="0.8"><line x1="245.95" y1="348.1" x2="245.95" y2="367.7"/><line x1="243.35" y1="348.1" x2="248.55" y2="348.1"/><line x1="243.35" y1="367.7" x2="248.55" y2="367.7"/><line x1="240.5" y1="357.9" x2="251.4" y2="357.9"/></g><circle cx="245.95" cy="357.9" r="1.7" fill="#005a00"/>
<g stroke="#2a8f2a" stroke-width="1.3" stroke-opacity="0.8"><line x1="260.35" y1="332.5" x2="260.35" y2="353.5"/><line x1="257.75" y1="332.5" x2="262.95" y2="332.5"/><line x1="257.75" y1="353.5" x2="262.95" y2="353.5"/><line x1="254.9" y1="343" x2="265.8" y2="343"/></g><circle cx="260.35" cy="343" r="1.7" fill="#005a00"/>
<g stroke="#ff0000" stroke-width="1.7"><line x1="284.95" y1="451.5" x2="284.95" y2="459.7"/><line x1="282.35" y1="451.5" x2="287.55" y2="451.5"/><line x1="282.35" y1="459.7" x2="287.55" y2="459.7"/></g>
<g stroke="#ff0000" stroke-width="1.7"><line x1="299.35" y1="457.25" x2="299.35" y2="464.75"/><line x1="296.75" y1="457.25" x2="301.95" y2="457.25"/><line x1="296.75" y1="464.75" x2="301.95" y2="464.75"/></g>
<g stroke="#2a8f2a" stroke-width="1.3" stroke-opacity="0.8"><line x1="284.95" y1="461.2" x2="284.95" y2="470.6"/><line x1="282.35" y1="461.2" x2="287.55" y2="461.2"/><line x1="282.35" y1="470.6" x2="287.55" y2="470.6"/><line x1="279.5" y1="465.9" x2="290.4" y2="465.9"/></g><circle cx="284.95" cy="465.9" r="1.7" fill="#005a00"/>
<g stroke="#2a8f2a" stroke-width="1.3" stroke-opacity="0.8"><line x1="299.35" y1="465.6" x2="299.35" y2="474.4"/><line x1="296.75" y1="465.6" x2="301.95" y2="465.6"/><line x1="296.75" y1="474.4" x2="301.95" y2="474.4"/><line x1="293.9" y1="470" x2="304.8" y2="470"/></g><circle cx="299.35" cy="470" r="1.7" fill="#005a00"/>
<line x1="58.9" y1="360.6" x2="58.9" y2="374" stroke="#000" stroke-width="0.95"/><path d="M56.4,363.4 L58.9,360.9 L61.4,363.4" fill="none" stroke="#000" stroke-width="0.95"/>
<g fill="#000"><path d="M49.85,381.08 L50.04,380.53 L50.25,380.29 L50.39,380.22 L50.52,380.17 L50.75,380.1 L51.14,380.04 L51.69,379.99 L52.42,379.97 L53.18,379.95 L53.72,379.93 L54.11,379.92 L54.44,379.91 L54.79,379.89 L55.22,379.86 L55.8,379.81 L56.61,379.72 L57.25,379.64 L57.91,379.46 L58.5,379.18 L59.03,378.8 L59.47,378.32 L59.78,377.76 L59.96,377.15 L59.99,376.6 L58.11,376.4 L58.05,376.73 L57.96,376.9 L57.84,377.03 L57.69,377.14 L57.5,377.23 L57.24,377.3 L56.93,377.34 L56.49,377.33 L55.72,377.3 L55.18,377.28 L54.81,377.25 L54.51,377.22 L54.2,377.18 L53.78,377.15 L53.21,377.11 L52.38,377.08 L51.49,377.11 L50.63,377.23 L49.82,377.47 L49.06,377.88 L48.41,378.48 L48,379.27 L47.87,380.13 L47.95,380.92Z"/><path d="M68.25,381.08 L68.06,380.53 L67.85,380.29 L67.71,380.22 L67.58,380.17 L67.35,380.1 L66.96,380.04 L66.41,379.99 L65.68,379.97 L64.92,379.95 L64.38,379.93 L63.99,379.92 L63.66,379.91 L63.31,379.89 L62.88,379.86 L62.3,379.81 L61.49,379.72 L60.85,379.64 L60.19,379.46 L59.6,379.18 L59.07,378.8 L58.63,378.32 L58.32,377.76 L58.14,377.15 L58.11,376.6 L59.99,376.4 L60.05,376.73 L60.14,376.9 L60.26,377.03 L60.41,377.14 L60.6,377.23 L60.86,377.3 L61.17,377.34 L61.61,377.33 L62.38,377.3 L62.92,377.28 L63.29,377.25 L63.59,377.22 L63.9,377.18 L64.32,377.15 L64.89,377.11 L65.72,377.08 L66.61,377.11 L67.47,377.23 L68.28,377.47 L69.04,377.88 L69.69,378.48 L70.1,379.27 L70.23,380.13 L70.15,380.92Z"/><circle cx="48.9" cy="381" r="0.95"/><circle cx="69.2" cy="381" r="0.95"/></g>
<g transform="translate(96.4,337.5) scale(1)"><path d="M0,0 C1.0,1.6 4.1,2.8 4.1,4.8 C4.1,6.6 2.0,7.0 0.5,5.9 L1.3,8.0 L-1.3,8.0 L-0.5,5.9 C-2.0,7.0 -4.1,6.6 -4.1,4.8 C-4.1,2.8 -1.0,1.6 0,0Z" fill="#000"/></g><path d="M94,346.4 L98.8,346.4" fill="none" stroke="#555" stroke-width="0.8"/>
<g fill="#000"><path d="M86.95,353.59 L87.13,353.12 L87.31,352.95 L87.45,352.92 L87.57,352.87 L87.82,352.81 L88.22,352.75 L88.79,352.71 L89.52,352.69 L90.28,352.67 L90.82,352.65 L91.22,352.64 L91.55,352.63 L91.91,352.61 L92.34,352.58 L92.92,352.52 L93.73,352.44 L94.37,352.35 L95.02,352.18 L95.61,351.91 L96.13,351.56 L96.56,351.12 L96.88,350.6 L97.08,350.01 L97.12,349.51 L95.23,349.29 L95.18,349.55 L95.11,349.66 L95,349.77 L94.85,349.87 L94.64,349.96 L94.38,350.03 L94.05,350.06 L93.62,350.05 L92.84,350.02 L92.3,350 L91.92,349.97 L91.62,349.94 L91.3,349.9 L90.89,349.86 L90.31,349.82 L89.48,349.8 L88.59,349.83 L87.74,349.95 L86.95,350.18 L86.2,350.55 L85.56,351.11 L85.14,351.86 L84.99,352.68 L85.05,353.41Z"/><path d="M105.4,353.59 L105.22,353.12 L105.04,352.95 L104.9,352.92 L104.78,352.87 L104.53,352.81 L104.13,352.75 L103.56,352.71 L102.83,352.69 L102.07,352.67 L101.53,352.65 L101.13,352.64 L100.8,352.63 L100.44,352.61 L100.01,352.58 L99.43,352.52 L98.62,352.44 L97.98,352.35 L97.33,352.18 L96.74,351.91 L96.22,351.56 L95.79,351.12 L95.47,350.6 L95.27,350.01 L95.23,349.51 L97.12,349.29 L97.17,349.55 L97.24,349.66 L97.35,349.77 L97.5,349.87 L97.71,349.96 L97.97,350.03 L98.3,350.06 L98.73,350.05 L99.51,350.02 L100.05,350 L100.43,349.97 L100.73,349.94 L101.05,349.9 L101.46,349.86 L102.04,349.82 L102.87,349.8 L103.76,349.83 L104.61,349.95 L105.4,350.18 L106.15,350.55 L106.79,351.11 L107.21,351.86 L107.36,352.68 L107.3,353.41Z"/><circle cx="86" cy="353.5" r="0.95"/><circle cx="106.35" cy="353.5" r="0.95"/></g>
<g transform="translate(128.5,377.95)"><path transform="rotate(0)" d="M0,0 C-0.5,-1.5 -1.6,-3.2 -1.6,-4.4 C-1.6,-5.3 -0.8,-5.8 0,-5.8 C0.8,-5.8 1.6,-5.3 1.6,-4.4 C1.6,-3.2 0.5,-1.5 0,0Z" fill="#000"/><path transform="rotate(72)" d="M0,0 C-0.5,-1.5 -1.6,-3.2 -1.6,-4.4 C-1.6,-5.3 -0.8,-5.8 0,-5.8 C0.8,-5.8 1.6,-5.3 1.6,-4.4 C1.6,-3.2 0.5,-1.5 0,0Z" fill="#000"/><path transform="rotate(144)" d="M0,0 C-0.5,-1.5 -1.6,-3.2 -1.6,-4.4 C-1.6,-5.3 -0.8,-5.8 0,-5.8 C0.8,-5.8 1.6,-5.3 1.6,-4.4 C1.6,-3.2 0.5,-1.5 0,0Z" fill="#000"/><path transform="rotate(216)" d="M0,0 C-0.5,-1.5 -1.6,-3.2 -1.6,-4.4 C-1.6,-5.3 -0.8,-5.8 0,-5.8 C0.8,-5.8 1.6,-5.3 1.6,-4.4 C1.6,-3.2 0.5,-1.5 0,0Z" fill="#000"/><path transform="rotate(288)" d="M0,0 C-0.5,-1.5 -1.6,-3.2 -1.6,-4.4 C-1.6,-5.3 -0.8,-5.8 0,-5.8 C0.8,-5.8 1.6,-5.3 1.6,-4.4 C1.6,-3.2 0.5,-1.5 0,0Z" fill="#000"/><circle r="0.9" fill="#000"/></g>
<g transform="translate(182.25,442.6)"><path transform="rotate(0)" d="M0,0 C-0.5,-1.5 -1.6,-3.2 -1.6,-4.4 C-1.6,-5.3 -0.8,-5.8 0,-5.8 C0.8,-5.8 1.6,-5.3 1.6,-4.4 C1.6,-3.2 0.5,-1.5 0,0Z" fill="#000"/><path transform="rotate(72)" d="M0,0 C-0.5,-1.5 -1.6,-3.2 -1.6,-4.4 C-1.6,-5.3 -0.8,-5.8 0,-5.8 C0.8,-5.8 1.6,-5.3 1.6,-4.4 C1.6,-3.2 0.5,-1.5 0,0Z" fill="#000"/><path transform="rotate(144)" d="M0,0 C-0.5,-1.5 -1.6,-3.2 -1.6,-4.4 C-1.6,-5.3 -0.8,-5.8 0,-5.8 C0.8,-5.8 1.6,-5.3 1.6,-4.4 C1.6,-3.2 0.5,-1.5 0,0Z" fill="#000"/><path transform="rotate(216)" d="M0,0 C-0.5,-1.5 -1.6,-3.2 -1.6,-4.4 C-1.6,-5.3 -0.8,-5.8 0,-5.8 C0.8,-5.8 1.6,-5.3 1.6,-4.4 C1.6,-3.2 0.5,-1.5 0,0Z" fill="#000"/><path transform="rotate(288)" d="M0,0 C-0.5,-1.5 -1.6,-3.2 -1.6,-4.4 C-1.6,-5.3 -0.8,-5.8 0,-5.8 C0.8,-5.8 1.6,-5.3 1.6,-4.4 C1.6,-3.2 0.5,-1.5 0,0Z" fill="#000"/><circle r="0.9" fill="#000"/></g>
<g transform="translate(213.75,421.9) scale(1.25)"><path d="M0,0 C1.0,1.6 4.1,2.8 4.1,4.8 C4.1,6.6 2.0,7.0 0.5,5.9 L1.3,8.0 L-1.3,8.0 L-0.5,5.9 C-2.0,7.0 -4.1,6.6 -4.1,4.8 C-4.1,2.8 -1.0,1.6 0,0Z" fill="#000"/></g><path d="M211.35,432.4 L216.15,432.4" fill="none" stroke="#555" stroke-width="0.8"/>
<g fill="#000"><path d="M204.6,438.58 L204.79,438.03 L205,437.79 L205.14,437.72 L205.27,437.67 L205.5,437.6 L205.89,437.54 L206.44,437.49 L207.17,437.47 L207.92,437.45 L208.45,437.43 L208.82,437.42 L209.12,437.41 L209.45,437.39 L209.86,437.36 L210.43,437.31 L211.23,437.22 L211.88,437.14 L212.53,436.96 L213.13,436.68 L213.66,436.3 L214.09,435.83 L214.41,435.26 L214.59,434.65 L214.62,434.1 L212.73,433.9 L212.67,434.23 L212.58,434.4 L212.47,434.53 L212.32,434.64 L212.12,434.73 L211.87,434.8 L211.55,434.84 L211.12,434.83 L210.35,434.8 L209.82,434.77 L209.47,434.75 L209.2,434.72 L208.91,434.69 L208.52,434.65 L207.95,434.61 L207.13,434.58 L206.24,434.61 L205.38,434.73 L204.57,434.97 L203.81,435.38 L203.16,435.98 L202.75,436.77 L202.62,437.63 L202.7,438.42Z"/><path d="M222.75,438.58 L222.56,438.03 L222.35,437.79 L222.21,437.72 L222.08,437.67 L221.85,437.6 L221.46,437.54 L220.91,437.49 L220.18,437.47 L219.43,437.45 L218.9,437.43 L218.53,437.42 L218.23,437.41 L217.9,437.39 L217.49,437.36 L216.92,437.31 L216.12,437.22 L215.47,437.14 L214.82,436.96 L214.22,436.68 L213.69,436.3 L213.26,435.83 L212.94,435.26 L212.76,434.65 L212.73,434.1 L214.62,433.9 L214.68,434.23 L214.77,434.4 L214.88,434.53 L215.03,434.64 L215.23,434.73 L215.48,434.8 L215.8,434.84 L216.23,434.83 L217,434.8 L217.53,434.77 L217.88,434.75 L218.15,434.72 L218.44,434.69 L218.83,434.65 L219.4,434.61 L220.22,434.58 L221.11,434.61 L221.97,434.73 L222.78,434.97 L223.54,435.38 L224.19,435.98 L224.6,436.77 L224.73,437.63 L224.65,438.42Z"/><circle cx="203.65" cy="438.5" r="0.95"/><circle cx="223.7" cy="438.5" r="0.95"/></g>
<g transform="translate(245.5,303.8)"><path transform="rotate(0)" d="M0,0 C-0.5,-1.5 -1.6,-3.2 -1.6,-4.4 C-1.6,-5.3 -0.8,-5.8 0,-5.8 C0.8,-5.8 1.6,-5.3 1.6,-4.4 C1.6,-3.2 0.5,-1.5 0,0Z" fill="#000"/><path transform="rotate(72)" d="M0,0 C-0.5,-1.5 -1.6,-3.2 -1.6,-4.4 C-1.6,-5.3 -0.8,-5.8 0,-5.8 C0.8,-5.8 1.6,-5.3 1.6,-4.4 C1.6,-3.2 0.5,-1.5 0,0Z" fill="#000"/><path transform="rotate(144)" d="M0,0 C-0.5,-1.5 -1.6,-3.2 -1.6,-4.4 C-1.6,-5.3 -0.8,-5.8 0,-5.8 C0.8,-5.8 1.6,-5.3 1.6,-4.4 C1.6,-3.2 0.5,-1.5 0,0Z" fill="#000"/><path transform="rotate(216)" d="M0,0 C-0.5,-1.5 -1.6,-3.2 -1.6,-4.4 C-1.6,-5.3 -0.8,-5.8 0,-5.8 C0.8,-5.8 1.6,-5.3 1.6,-4.4 C1.6,-3.2 0.5,-1.5 0,0Z" fill="#000"/><path transform="rotate(288)" d="M0,0 C-0.5,-1.5 -1.6,-3.2 -1.6,-4.4 C-1.6,-5.3 -0.8,-5.8 0,-5.8 C0.8,-5.8 1.6,-5.3 1.6,-4.4 C1.6,-3.2 0.5,-1.5 0,0Z" fill="#000"/><circle r="0.9" fill="#000"/></g>
<line x1="291.4" y1="428.1" x2="291.4" y2="441.25" stroke="#000" stroke-width="0.95"/><path d="M288.9,430.9 L291.4,428.4 L293.9,430.9" fill="none" stroke="#000" stroke-width="0.95"/>
<g fill="#000"><path d="M281.95,448.94 L282.12,448.48 L282.3,448.32 L282.44,448.3 L282.57,448.25 L282.82,448.19 L283.22,448.13 L283.79,448.09 L284.52,448.07 L285.27,448.05 L285.8,448.03 L286.17,448.02 L286.49,448 L286.82,447.99 L287.24,447.96 L287.8,447.9 L288.61,447.82 L289.25,447.73 L289.89,447.56 L290.48,447.29 L291,446.94 L291.43,446.51 L291.76,445.99 L291.95,445.41 L291.99,444.92 L290.11,444.68 L290.06,444.93 L289.99,445.04 L289.88,445.15 L289.73,445.25 L289.52,445.34 L289.25,445.41 L288.93,445.44 L288.49,445.43 L287.72,445.4 L287.19,445.37 L286.84,445.35 L286.56,445.32 L286.27,445.28 L285.87,445.24 L285.3,445.2 L284.48,445.18 L283.59,445.21 L282.74,445.33 L281.95,445.56 L281.21,445.92 L280.56,446.47 L280.14,447.22 L279.99,448.04 L280.05,448.76Z"/><path d="M300.15,448.94 L299.98,448.48 L299.8,448.32 L299.66,448.3 L299.53,448.25 L299.28,448.19 L298.88,448.13 L298.31,448.09 L297.58,448.07 L296.83,448.05 L296.3,448.03 L295.93,448.02 L295.61,448 L295.28,447.99 L294.86,447.96 L294.3,447.9 L293.49,447.82 L292.85,447.73 L292.21,447.56 L291.62,447.29 L291.1,446.94 L290.67,446.51 L290.34,445.99 L290.15,445.41 L290.11,444.92 L291.99,444.68 L292.04,444.93 L292.11,445.04 L292.22,445.15 L292.37,445.25 L292.58,445.34 L292.85,445.41 L293.17,445.44 L293.61,445.43 L294.38,445.4 L294.91,445.37 L295.26,445.35 L295.54,445.32 L295.83,445.28 L296.23,445.24 L296.8,445.2 L297.62,445.18 L298.51,445.21 L299.36,445.33 L300.15,445.56 L300.89,445.92 L301.54,446.47 L301.96,447.22 L302.11,448.04 L302.05,448.76Z"/><circle cx="281" cy="448.85" r="0.95"/><circle cx="301.1" cy="448.85" r="0.95"/></g>
</g>
<line x1="44.1" y1="308.7" x2="59.1" y2="308.7" stroke="#2ca02c" stroke-width="1.4"/>
<line x1="44.1" y1="322.5" x2="59.1" y2="322.5" stroke="#ff4d4d" stroke-width="1.6"/>
<text x="68.6" y="312.5" font-family='"Liberation Serif", serif' font-weight="bold" font-size="9.5">Control - C</text>
<text x="68.6" y="325.8" font-family='"Liberation Serif", serif' font-weight="bold" font-size="9.5">Stimulated - MC</text>
<rect x="33.1" y="296.9" width="285" height="236" fill="none" stroke="#111" stroke-width="1.35"/>
<line x1="58.15" y1="296.9" x2="58.15" y2="299.4" stroke="#999" stroke-width="0.6"/>
<line x1="58.15" y1="532.9" x2="58.15" y2="530.4" stroke="#999" stroke-width="0.6"/>
<line x1="97.15" y1="296.9" x2="97.15" y2="299.4" stroke="#999" stroke-width="0.6"/>
<line x1="97.15" y1="532.9" x2="97.15" y2="530.4" stroke="#999" stroke-width="0.6"/>
<line x1="136.15" y1="296.9" x2="136.15" y2="299.4" stroke="#999" stroke-width="0.6"/>
<line x1="136.15" y1="532.9" x2="136.15" y2="530.4" stroke="#999" stroke-width="0.6"/>
<line x1="175.15" y1="296.9" x2="175.15" y2="299.4" stroke="#999" stroke-width="0.6"/>
<line x1="175.15" y1="532.9" x2="175.15" y2="530.4" stroke="#999" stroke-width="0.6"/>
<line x1="214.15" y1="296.9" x2="214.15" y2="299.4" stroke="#999" stroke-width="0.6"/>
<line x1="214.15" y1="532.9" x2="214.15" y2="530.4" stroke="#999" stroke-width="0.6"/>
<line x1="253.15" y1="296.9" x2="253.15" y2="299.4" stroke="#999" stroke-width="0.6"/>
<line x1="253.15" y1="532.9" x2="253.15" y2="530.4" stroke="#999" stroke-width="0.6"/>
<line x1="292.15" y1="296.9" x2="292.15" y2="299.4" stroke="#999" stroke-width="0.6"/>
<line x1="292.15" y1="532.9" x2="292.15" y2="530.4" stroke="#999" stroke-width="0.6"/>
<line x1="33.1" y1="353.2" x2="35.6" y2="353.2" stroke="#999" stroke-width="0.6"/>
<line x1="318.1" y1="353.2" x2="315.6" y2="353.2" stroke="#999" stroke-width="0.6"/>
<text x="30.8" y="356.35" font-family='"Liberation Serif", serif' font-weight="bold" font-style="italic" font-size="9.6" text-anchor="end">3.0</text>
<line x1="33.1" y1="413.1" x2="35.6" y2="413.1" stroke="#999" stroke-width="0.6"/>
<line x1="318.1" y1="413.1" x2="315.6" y2="413.1" stroke="#999" stroke-width="0.6"/>
<text x="30.8" y="416.25" font-family='"Liberation Serif", serif' font-weight="bold" font-style="italic" font-size="9.6" text-anchor="end">2.5</text>
<line x1="33.1" y1="473" x2="35.6" y2="473" stroke="#999" stroke-width="0.6"/>
<line x1="318.1" y1="473" x2="315.6" y2="473" stroke="#999" stroke-width="0.6"/>
<text x="30.8" y="476.15" font-family='"Liberation Serif", serif' font-weight="bold" font-style="italic" font-size="9.6" text-anchor="end">2.0</text>
<line x1="33.1" y1="532.9" x2="35.6" y2="532.9" stroke="#999" stroke-width="0.6"/>
<line x1="318.1" y1="532.9" x2="315.6" y2="532.9" stroke="#999" stroke-width="0.6"/>
<text x="30.8" y="536.05" font-family='"Liberation Serif", serif' font-weight="bold" font-style="italic" font-size="9.6" text-anchor="end">1.5</text>
<text x="58.15" y="543.6" font-family='"Liberation Serif", serif' font-weight="bold" font-style="italic" font-size="10.2" text-anchor="middle">DMV</text>
<text x="97.15" y="543.6" font-family='"Liberation Serif", serif' font-weight="bold" font-style="italic" font-size="10.2" text-anchor="middle">VTA</text>
<text x="136.15" y="543.6" font-family='"Liberation Serif", serif' font-weight="bold" font-style="italic" font-size="10.2" text-anchor="middle">SN</text>
<text x="175.15" y="543.6" font-family='"Liberation Serif", serif' font-weight="bold" font-style="italic" font-size="10.2" text-anchor="middle">NAC</text>
<text x="214.15" y="543.6" font-family='"Liberation Serif", serif' font-weight="bold" font-style="italic" font-size="10.2" text-anchor="middle">STR_E</text>
<text x="253.15" y="543.6" font-family='"Liberation Serif", serif' font-weight="bold" font-style="italic" font-size="10.2" text-anchor="middle">STR_F</text>
<text x="292.15" y="543.6" font-family='"Liberation Serif", serif' font-weight="bold" font-style="italic" font-size="10.2" text-anchor="middle">CX</text>
<text x="175.6" y="557.8" font-family='"Liberation Serif", serif' font-weight="bold" font-size="12.8" text-anchor="middle">Brain structure</text>
<text x="168.8" y="573.2" font-family='"Liberation Serif", serif' font-weight="bold" font-size="14.5" text-anchor="middle">(b)</text>
<clipPath id="clipc"><rect x="33.1" y="592.25" width="285" height="236.35"/></clipPath>
<g clip-path="url(#clipc)">
<rect x="45.5" y="715.6" width="10.9" height="115" fill="#fb9595" stroke="#c98282" stroke-width="0.7"/>
<rect x="59.9" y="720.6" width="10.9" height="110" fill="#fb9595" stroke="#c98282" stroke-width="0.7"/>
<rect x="84.5" y="728.1" width="10.9" height="102.5" fill="#fb9595" stroke="#c98282" stroke-width="0.7"/>
<rect x="98.9" y="702.25" width="10.9" height="128.35" fill="#fb9595" stroke="#c98282" stroke-width="0.7"/>
<rect x="123.5" y="683.3" width="10.9" height="147.3" fill="#fb9595" stroke="#c98282" stroke-width="0.7"/>
<rect x="137.9" y="715.25" width="10.9" height="115.35" fill="#fb9595" stroke="#c98282" stroke-width="0.7"/>
<rect x="162.5" y="654" width="10.9" height="176.6" fill="#fb9595" stroke="#c98282" stroke-width="0.7"/>
<rect x="176.9" y="673.1" width="10.9" height="157.5" fill="#fb9595" stroke="#c98282" stroke-width="0.7"/>
<rect x="201.5" y="691" width="10.9" height="139.6" fill="#fb9595" stroke="#c98282" stroke-width="0.7"/>
<rect x="215.9" y="682.5" width="10.9" height="148.1" fill="#fb9595" stroke="#c98282" stroke-width="0.7"/>
<rect x="240.5" y="750" width="10.9" height="80.6" fill="#fb9595" stroke="#c98282" stroke-width="0.7"/>
<rect x="254.9" y="749" width="10.9" height="81.6" fill="#fb9595" stroke="#c98282" stroke-width="0.7"/>
<rect x="279.5" y="628.5" width="10.9" height="202.1" fill="#fb9595" stroke="#c98282" stroke-width="0.7"/>
<rect x="293.9" y="626.25" width="10.9" height="204.35" fill="#fb9595" stroke="#c98282" stroke-width="0.7"/>
<text x="50.95" y="811.3" font-family='"Liberation Serif", serif' font-weight="bold" font-style="italic" font-size="11.5" text-anchor="middle">R</text>
<text x="66.15" y="811.3" font-family='"Liberation Serif", serif' font-weight="bold" font-style="italic" font-size="11.5" text-anchor="middle">L</text>
<text x="89.95" y="811.3" font-family='"Liberation Serif", serif' font-weight="bold" font-style="italic" font-size="11.5" text-anchor="middle">R</text>
<text x="105.15" y="811.3" font-family='"Liberation Serif", serif' font-weight="bold" font-style="italic" font-size="11.5" text-anchor="middle">L</text>
<text x="128.95" y="811.3" font-family='"Liberation Serif", serif' font-weight="bold" font-style="italic" font-size="11.5" text-anchor="middle">R</text>
<text x="144.15" y="811.3" font-family='"Liberation Serif", serif' font-weight="bold" font-style="italic" font-size="11.5" text-anchor="middle">L</text>
<text x="167.95" y="811.3" font-family='"Liberation Serif", serif' font-weight="bold" font-style="italic" font-size="11.5" text-anchor="middle">R</text>
<text x="183.15" y="811.3" font-family='"Liberation Serif", serif' font-weight="bold" font-style="italic" font-size="11.5" text-anchor="middle">L</text>
<text x="206.95" y="811.3" font-family='"Liberation Serif", serif' font-weight="bold" font-style="italic" font-size="11.5" text-anchor="middle">R</text>
<text x="222.15" y="811.3" font-family='"Liberation Serif", serif' font-weight="bold" font-style="italic" font-size="11.5" text-anchor="middle">L</text>
<text x="245.95" y="811.3" font-family='"Liberation Serif", serif' font-weight="bold" font-style="italic" font-size="11.5" text-anchor="middle">R</text>
<text x="261.15" y="811.3" font-family='"Liberation Serif", serif' font-weight="bold" font-style="italic" font-size="11.5" text-anchor="middle">L</text>
<text x="284.95" y="811.3" font-family='"Liberation Serif", serif' font-weight="bold" font-style="italic" font-size="11.5" text-anchor="middle">R</text>
<text x="300.15" y="811.3" font-family='"Liberation Serif", serif' font-weight="bold" font-style="italic" font-size="11.5" text-anchor="middle">L</text>
<g stroke="#ff0000" stroke-width="1.7"><line x1="50.95" y1="705.3" x2="50.95" y2="726.5"/><line x1="48.35" y1="705.3" x2="53.55" y2="705.3"/><line x1="48.35" y1="726.5" x2="53.55" y2="726.5"/></g>
<g stroke="#ff0000" stroke-width="1.7"><line x1="65.35" y1="709.7" x2="65.35" y2="731.3"/><line x1="62.75" y1="709.7" x2="67.95" y2="709.7"/><line x1="62.75" y1="731.3" x2="67.95" y2="731.3"/></g>
<g stroke="#2a8f2a" stroke-width="1.3" stroke-opacity="0.8"><line x1="50.95" y1="704.7" x2="50.95" y2="726.5"/><line x1="48.35" y1="704.7" x2="53.55" y2="704.7"/><line x1="48.35" y1="726.5" x2="53.55" y2="726.5"/><line x1="45.5" y1="715.6" x2="56.4" y2="715.6"/></g><circle cx="50.95" cy="715.6" r="1.7" fill="#005a00"/>
<g stroke="#2a8f2a" stroke-width="1.3" stroke-opacity="0.8"><line x1="65.35" y1="713.1" x2="65.35" y2="731.9"/><line x1="62.75" y1="713.1" x2="67.95" y2="713.1"/><line x1="62.75" y1="731.9" x2="67.95" y2="731.9"/><line x1="59.9" y1="722.5" x2="70.8" y2="722.5"/></g><circle cx="65.35" cy="722.5" r="1.7" fill="#005a00"/>
<g stroke="#ff0000" stroke-width="1.7"><line x1="89.95" y1="720.6" x2="89.95" y2="735.6"/><line x1="87.35" y1="720.6" x2="92.55" y2="720.6"/><line x1="87.35" y1="735.6" x2="92.55" y2="735.6"/></g>
<g stroke="#ff0000" stroke-width="1.7"><line x1="104.35" y1="691.9" x2="104.35" y2="711.9"/><line x1="101.75" y1="691.9" x2="106.95" y2="691.9"/><line x1="101.75" y1="711.9" x2="106.95" y2="711.9"/></g>
<g stroke="#2a8f2a" stroke-width="1.3" stroke-opacity="0.8"><line x1="89.95" y1="747.7" x2="89.95" y2="763.1"/><line x1="87.35" y1="747.7" x2="92.55" y2="747.7"/><line x1="87.35" y1="763.1" x2="92.55" y2="763.1"/><line x1="84.5" y1="755.4" x2="95.4" y2="755.4"/></g><circle cx="89.95" cy="755.4" r="1.7" fill="#005a00"/>
<g stroke="#2a8f2a" stroke-width="1.3" stroke-opacity="0.8"><line x1="104.35" y1="734.8" x2="104.35" y2="754.4"/><line x1="101.75" y1="734.8" x2="106.95" y2="734.8"/><line x1="101.75" y1="754.4" x2="106.95" y2="754.4"/><line x1="98.9" y1="744.6" x2="109.8" y2="744.6"/></g><circle cx="104.35" cy="744.6" r="1.7" fill="#005a00"/>
<g stroke="#ff0000" stroke-width="1.7"><line x1="128.95" y1="673.75" x2="128.95" y2="692.75"/><line x1="126.35" y1="673.75" x2="131.55" y2="673.75"/><line x1="126.35" y1="692.75" x2="131.55" y2="692.75"/></g>
<g stroke="#ff0000" stroke-width="1.7"><line x1="143.35" y1="707.25" x2="143.35" y2="722.25"/><line x1="140.75" y1="707.25" x2="145.95" y2="707.25"/><line x1="140.75" y1="722.25" x2="145.95" y2="722.25"/></g>
<g stroke="#2a8f2a" stroke-width="1.3" stroke-opacity="0.8"><line x1="128.95" y1="724.45" x2="128.95" y2="743.55"/><line x1="126.35" y1="724.45" x2="131.55" y2="724.45"/><line x1="126.35" y1="743.55" x2="131.55" y2="743.55"/><line x1="123.5" y1="734" x2="134.4" y2="734"/></g><circle cx="128.95" cy="734" r="1.7" fill="#005a00"/>
<g stroke="#2a8f2a" stroke-width="1.3" stroke-opacity="0.8"><line x1="143.35" y1="724.75" x2="143.35" y2="740.25"/><line x1="140.75" y1="724.75" x2="145.95" y2="724.75"/><line x1="140.75" y1="740.25" x2="145.95" y2="740.25"/><line x1="137.9" y1="732.5" x2="148.8" y2="732.5"/></g><circle cx="143.35" cy="732.5" r="1.7" fill="#005a00"/>
<g stroke="#ff0000" stroke-width="1.7"><line x1="167.95" y1="643.5" x2="167.95" y2="664.5"/><line x1="165.35" y1="643.5" x2="170.55" y2="643.5"/><line x1="165.35" y1="664.5" x2="170.55" y2="664.5"/></g>
<g stroke="#ff0000" stroke-width="1.7"><line x1="182.35" y1="661.5" x2="182.35" y2="684.7"/><line x1="179.75" y1="661.5" x2="184.95" y2="661.5"/><line x1="179.75" y1="684.7" x2="184.95" y2="684.7"/></g>
<g stroke="#2a8f2a" stroke-width="1.3" stroke-opacity="0.8"><line x1="167.95" y1="657.5" x2="167.95" y2="681.5"/><line x1="165.35" y1="657.5" x2="170.55" y2="657.5"/><line x1="165.35" y1="681.5" x2="170.55" y2="681.5"/><line x1="162.5" y1="669.5" x2="173.4" y2="669.5"/></g><circle cx="167.95" cy="669.5" r="1.7" fill="#005a00"/>
<g stroke="#2a8f2a" stroke-width="1.3" stroke-opacity="0.8"><line x1="182.35" y1="626.25" x2="182.35" y2="651.25"/><line x1="179.75" y1="626.25" x2="184.95" y2="626.25"/><line x1="179.75" y1="651.25" x2="184.95" y2="651.25"/><line x1="176.9" y1="638.75" x2="187.8" y2="638.75"/></g><circle cx="182.35" cy="638.75" r="1.7" fill="#005a00"/>
<g stroke="#ff0000" stroke-width="1.7"><line x1="206.95" y1="681.9" x2="206.95" y2="699.7"/><line x1="204.35" y1="681.9" x2="209.55" y2="681.9"/><line x1="204.35" y1="699.7" x2="209.55" y2="699.7"/></g>
<g stroke="#ff0000" stroke-width="1.7"><line x1="221.35" y1="671.5" x2="221.35" y2="693.1"/><line x1="218.75" y1="671.5" x2="223.95" y2="671.5"/><line x1="218.75" y1="693.1" x2="223.95" y2="693.1"/></g>
<g stroke="#2a8f2a" stroke-width="1.3" stroke-opacity="0.8"><line x1="206.95" y1="631.25" x2="206.95" y2="652.25"/><line x1="204.35" y1="631.25" x2="209.55" y2="631.25"/><line x1="204.35" y1="652.25" x2="209.55" y2="652.25"/><line x1="201.5" y1="641.75" x2="212.4" y2="641.75"/></g><circle cx="206.95" cy="641.75" r="1.7" fill="#005a00"/>
<g stroke="#2a8f2a" stroke-width="1.3" stroke-opacity="0.8"><line x1="221.35" y1="615" x2="221.35" y2="638.5"/><line x1="218.75" y1="615" x2="223.95" y2="615"/><line x1="218.75" y1="638.5" x2="223.95" y2="638.5"/><line x1="215.9" y1="626.75" x2="226.8" y2="626.75"/></g><circle cx="221.35" cy="626.75" r="1.7" fill="#005a00"/>
<g stroke="#ff0000" stroke-width="1.7"><line x1="245.95" y1="746.25" x2="245.95" y2="753.15"/><line x1="243.35" y1="746.25" x2="248.55" y2="746.25"/><line x1="243.35" y1="753.15" x2="248.55" y2="753.15"/></g>
<g stroke="#ff0000" stroke-width="1.7"><line x1="260.35" y1="744.6" x2="260.35" y2="752.8"/><line x1="257.75" y1="744.6" x2="262.95" y2="744.6"/><line x1="257.75" y1="752.8" x2="262.95" y2="752.8"/></g>
<g stroke="#2a8f2a" stroke-width="1.3" stroke-opacity="0.8"><line x1="245.95" y1="733.1" x2="245.95" y2="741.5"/><line x1="243.35" y1="733.1" x2="248.55" y2="733.1"/><line x1="243.35" y1="741.5" x2="248.55" y2="741.5"/><line x1="240.5" y1="737.3" x2="251.4" y2="737.3"/></g><circle cx="245.95" cy="737.3" r="1.7" fill="#005a00"/>
<g stroke="#2a8f2a" stroke-width="1.3" stroke-opacity="0.8"><line x1="260.35" y1="731.5" x2="260.35" y2="741.9"/><line x1="257.75" y1="731.5" x2="262.95" y2="731.5"/><line x1="257.75" y1="741.9" x2="262.95" y2="741.9"/><line x1="254.9" y1="736.7" x2="265.8" y2="736.7"/></g><circle cx="260.35" cy="736.7" r="1.7" fill="#005a00"/>
<g stroke="#ff0000" stroke-width="1.7"><line x1="284.95" y1="616" x2="284.95" y2="640.6"/><line x1="282.35" y1="616" x2="287.55" y2="616"/><line x1="282.35" y1="640.6" x2="287.55" y2="640.6"/></g>
<g stroke="#ff0000" stroke-width="1.7"><line x1="299.35" y1="612.2" x2="299.35" y2="639.2"/><line x1="296.75" y1="612.2" x2="301.95" y2="612.2"/><line x1="296.75" y1="639.2" x2="301.95" y2="639.2"/></g>
<g stroke="#2a8f2a" stroke-width="1.3" stroke-opacity="0.8"><line x1="284.95" y1="650.6" x2="284.95" y2="672.8"/><line x1="282.35" y1="650.6" x2="287.55" y2="650.6"/><line x1="282.35" y1="672.8" x2="287.55" y2="672.8"/><line x1="279.5" y1="661.7" x2="290.4" y2="661.7"/></g><circle cx="284.95" cy="661.7" r="1.7" fill="#005a00"/>
<g stroke="#2a8f2a" stroke-width="1.3" stroke-opacity="0.8"><line x1="299.35" y1="669.4" x2="299.35" y2="683.5"/><line x1="296.75" y1="669.4" x2="301.95" y2="669.4"/><line x1="296.75" y1="683.5" x2="301.95" y2="683.5"/><line x1="293.9" y1="676.45" x2="304.8" y2="676.45"/></g><circle cx="299.35" cy="676.45" r="1.7" fill="#005a00"/>
<line x1="95.1" y1="666.9" x2="95.1" y2="680.6" stroke="#000" stroke-width="0.95"/><path d="M92.6,669.7 L95.1,667.2 L97.6,669.7" fill="none" stroke="#000" stroke-width="0.95"/>
<g fill="#000"><path d="M86.1,687.49 L86.26,687.07 L86.43,686.93 L86.57,686.92 L86.7,686.88 L86.95,686.81 L87.37,686.75 L87.94,686.72 L88.67,686.7 L89.44,686.69 L90,686.67 L90.43,686.65 L90.79,686.64 L91.18,686.62 L91.64,686.58 L92.24,686.53 L93.06,686.44 L93.69,686.36 L94.34,686.19 L94.92,685.93 L95.43,685.59 L95.86,685.16 L96.19,684.66 L96.4,684.1 L96.44,683.62 L94.56,683.38 L94.51,683.6 L94.45,683.69 L94.35,683.78 L94.19,683.88 L93.98,683.98 L93.71,684.04 L93.38,684.08 L92.94,684.07 L92.16,684.04 L91.6,684.01 L91.19,683.98 L90.86,683.95 L90.51,683.91 L90.06,683.87 L89.47,683.83 L88.63,683.81 L87.74,683.84 L86.9,683.96 L86.11,684.19 L85.38,684.54 L84.73,685.07 L84.31,685.81 L84.15,686.61 L84.2,687.31Z"/><path d="M104.9,687.49 L104.74,687.07 L104.57,686.93 L104.43,686.92 L104.3,686.88 L104.05,686.81 L103.63,686.75 L103.06,686.72 L102.33,686.7 L101.56,686.69 L101,686.67 L100.57,686.65 L100.21,686.64 L99.82,686.62 L99.36,686.58 L98.76,686.53 L97.94,686.44 L97.31,686.36 L96.66,686.19 L96.08,685.93 L95.57,685.59 L95.14,685.16 L94.81,684.66 L94.6,684.1 L94.56,683.62 L96.44,683.38 L96.49,683.6 L96.55,683.69 L96.65,683.78 L96.81,683.88 L97.02,683.98 L97.29,684.04 L97.62,684.08 L98.06,684.07 L98.84,684.04 L99.4,684.01 L99.81,683.98 L100.14,683.95 L100.49,683.91 L100.94,683.87 L101.53,683.83 L102.37,683.81 L103.26,683.84 L104.1,683.96 L104.89,684.19 L105.62,684.54 L106.27,685.07 L106.69,685.81 L106.85,686.61 L106.8,687.31Z"/><circle cx="85.15" cy="687.4" r="0.95"/><circle cx="105.85" cy="687.4" r="0.95"/></g>
<line x1="134.1" y1="651.25" x2="134.1" y2="664.4" stroke="#000" stroke-width="0.95"/><path d="M131.6,654.05 L134.1,651.55 L136.6,654.05" fill="none" stroke="#000" stroke-width="0.95"/>
<g fill="#000"><path d="M125.1,671.67 L125.3,671.08 L125.51,670.81 L125.66,670.71 L125.79,670.66 L126.01,670.59 L126.39,670.53 L126.94,670.48 L127.67,670.46 L128.44,670.45 L129,670.43 L129.43,670.41 L129.79,670.4 L130.18,670.38 L130.64,670.35 L131.24,670.29 L132.06,670.21 L132.7,670.13 L133.36,669.95 L133.96,669.66 L134.5,669.27 L134.93,668.78 L135.24,668.2 L135.42,667.56 L135.45,666.99 L133.55,666.81 L133.49,667.17 L133.4,667.37 L133.28,667.52 L133.13,667.63 L132.94,667.72 L132.69,667.79 L132.37,667.83 L131.94,667.82 L131.16,667.79 L130.6,667.77 L130.19,667.74 L129.86,667.71 L129.51,667.67 L129.06,667.63 L128.47,667.59 L127.63,667.57 L126.73,667.6 L125.87,667.73 L125.05,667.97 L124.29,668.39 L123.64,669.02 L123.23,669.82 L123.11,670.7 L123.2,671.53Z"/><path d="M143.9,671.67 L143.7,671.08 L143.49,670.81 L143.34,670.71 L143.21,670.66 L142.99,670.59 L142.61,670.53 L142.06,670.48 L141.33,670.46 L140.56,670.45 L140,670.43 L139.57,670.41 L139.21,670.4 L138.82,670.38 L138.36,670.35 L137.76,670.29 L136.94,670.21 L136.3,670.13 L135.64,669.95 L135.04,669.66 L134.5,669.27 L134.07,668.78 L133.76,668.2 L133.58,667.56 L133.55,666.99 L135.45,666.81 L135.51,667.17 L135.6,667.37 L135.72,667.52 L135.87,667.63 L136.06,667.72 L136.31,667.79 L136.63,667.83 L137.06,667.82 L137.84,667.79 L138.4,667.77 L138.81,667.74 L139.14,667.71 L139.49,667.67 L139.94,667.63 L140.53,667.59 L141.37,667.57 L142.27,667.6 L143.13,667.73 L143.95,667.97 L144.71,668.39 L145.36,669.02 L145.77,669.82 L145.89,670.7 L145.8,671.53Z"/><circle cx="124.15" cy="671.6" r="0.95"/><circle cx="144.85" cy="671.6" r="0.95"/></g>
<g transform="translate(174.4,606.25) scale(1.15)"><path d="M0,0 C1.0,1.6 4.1,2.8 4.1,4.8 C4.1,6.6 2.0,7.0 0.5,5.9 L1.3,8.0 L-1.3,8.0 L-0.5,5.9 C-2.0,7.0 -4.1,6.6 -4.1,4.8 C-4.1,2.8 -1.0,1.6 0,0Z" fill="#000"/></g><path d="M172,616.15 L176.8,616.15" fill="none" stroke="#555" stroke-width="0.8"/>
<g fill="#000"><path d="M165.35,622.67 L165.55,622.06 L165.78,621.77 L165.92,621.67 L166.05,621.61 L166.27,621.54 L166.65,621.47 L167.2,621.43 L167.92,621.41 L168.68,621.39 L169.22,621.37 L169.61,621.35 L169.94,621.34 L170.29,621.33 L170.72,621.29 L171.3,621.24 L172.11,621.16 L172.75,621.08 L173.41,620.89 L174.02,620.6 L174.55,620.21 L174.99,619.71 L175.3,619.12 L175.47,618.47 L175.5,617.89 L173.6,617.71 L173.54,618.09 L173.44,618.3 L173.32,618.46 L173.17,618.57 L172.98,618.67 L172.73,618.73 L172.42,618.77 L171.99,618.76 L171.22,618.73 L170.68,618.71 L170.31,618.68 L170.01,618.65 L169.7,618.62 L169.28,618.58 L168.71,618.54 L167.88,618.51 L166.98,618.54 L166.12,618.67 L165.3,618.92 L164.53,619.35 L163.88,619.98 L163.47,620.8 L163.36,621.69 L163.45,622.53Z"/><path d="M183.75,622.67 L183.55,622.06 L183.32,621.77 L183.18,621.67 L183.05,621.61 L182.83,621.54 L182.45,621.47 L181.9,621.43 L181.18,621.41 L180.42,621.39 L179.88,621.37 L179.49,621.35 L179.16,621.34 L178.81,621.33 L178.38,621.29 L177.8,621.24 L176.99,621.16 L176.35,621.08 L175.69,620.89 L175.08,620.6 L174.55,620.21 L174.11,619.71 L173.8,619.12 L173.63,618.47 L173.6,617.89 L175.5,617.71 L175.56,618.09 L175.66,618.3 L175.78,618.46 L175.93,618.57 L176.12,618.67 L176.37,618.73 L176.68,618.77 L177.11,618.76 L177.88,618.73 L178.42,618.71 L178.79,618.68 L179.09,618.65 L179.4,618.62 L179.82,618.58 L180.39,618.54 L181.22,618.51 L182.12,618.54 L182.98,618.67 L183.8,618.92 L184.57,619.35 L185.22,619.98 L185.63,620.8 L185.74,621.69 L185.65,622.53Z"/><circle cx="164.4" cy="622.6" r="0.95"/><circle cx="184.7" cy="622.6" r="0.95"/></g>
<line x1="213.4" y1="592.25" x2="213.4" y2="605.6" stroke="#000" stroke-width="0.95"/><path d="M210.9,602.8 L213.4,605.3 L215.9,602.8" fill="none" stroke="#000" stroke-width="0.95"/>
<g fill="#000"><path d="M204.35,612.27 L204.56,611.6 L204.8,611.28 L204.95,611.14 L205.07,611.07 L205.28,611.01 L205.65,610.94 L206.2,610.89 L206.92,610.87 L207.68,610.85 L208.22,610.83 L208.61,610.82 L208.94,610.81 L209.29,610.79 L209.72,610.76 L210.3,610.71 L211.11,610.62 L211.76,610.54 L212.42,610.35 L213.03,610.06 L213.57,609.65 L214.01,609.12 L214.31,608.51 L214.47,607.85 L214.5,607.23 L212.6,607.07 L212.54,607.49 L212.43,607.74 L212.3,607.91 L212.15,608.03 L211.97,608.13 L211.73,608.19 L211.42,608.23 L210.99,608.22 L210.22,608.2 L209.68,608.17 L209.31,608.14 L209.01,608.11 L208.7,608.08 L208.28,608.04 L207.71,608.01 L206.88,607.98 L205.98,608 L205.11,608.13 L204.28,608.39 L203.5,608.84 L202.85,609.5 L202.45,610.33 L202.35,611.25 L202.45,612.13Z"/><path d="M222.75,612.27 L222.54,611.6 L222.3,611.28 L222.15,611.14 L222.03,611.07 L221.82,611.01 L221.45,610.94 L220.9,610.89 L220.18,610.87 L219.42,610.85 L218.88,610.83 L218.49,610.82 L218.16,610.81 L217.81,610.79 L217.38,610.76 L216.8,610.71 L215.99,610.62 L215.34,610.54 L214.68,610.35 L214.07,610.06 L213.53,609.65 L213.09,609.12 L212.79,608.51 L212.63,607.85 L212.6,607.23 L214.5,607.07 L214.56,607.49 L214.67,607.74 L214.8,607.91 L214.95,608.03 L215.13,608.13 L215.37,608.19 L215.68,608.23 L216.11,608.22 L216.88,608.2 L217.42,608.17 L217.79,608.14 L218.09,608.11 L218.4,608.08 L218.82,608.04 L219.39,608.01 L220.22,607.98 L221.12,608 L221.99,608.13 L222.82,608.39 L223.6,608.84 L224.25,609.5 L224.65,610.33 L224.75,611.25 L224.65,612.13Z"/><circle cx="203.4" cy="612.2" r="0.95"/><circle cx="223.7" cy="612.2" r="0.95"/></g>
<line x1="252.4" y1="708.5" x2="252.4" y2="722.25" stroke="#000" stroke-width="0.95"/><path d="M249.9,719.45 L252.4,721.95 L254.9,719.45" fill="none" stroke="#000" stroke-width="0.95"/>
<g fill="#000"><path d="M242.95,728.58 L243.14,728.03 L243.35,727.79 L243.49,727.72 L243.62,727.66 L243.85,727.6 L244.24,727.54 L244.79,727.49 L245.52,727.47 L246.28,727.45 L246.82,727.43 L247.22,727.42 L247.55,727.41 L247.91,727.39 L248.34,727.36 L248.92,727.31 L249.73,727.22 L250.37,727.14 L251.03,726.96 L251.63,726.68 L252.16,726.3 L252.59,725.82 L252.91,725.26 L253.09,724.65 L253.12,724.1 L251.23,723.9 L251.17,724.23 L251.08,724.4 L250.97,724.53 L250.82,724.64 L250.62,724.74 L250.37,724.8 L250.05,724.84 L249.62,724.83 L248.84,724.8 L248.3,724.78 L247.92,724.75 L247.62,724.72 L247.3,724.68 L246.89,724.64 L246.31,724.61 L245.48,724.58 L244.59,724.61 L243.73,724.73 L242.92,724.98 L242.16,725.38 L241.51,725.98 L241.1,726.77 L240.97,727.63 L241.05,728.42Z"/><path d="M261.4,728.58 L261.21,728.03 L261,727.79 L260.86,727.72 L260.73,727.66 L260.5,727.6 L260.11,727.54 L259.56,727.49 L258.83,727.47 L258.07,727.45 L257.53,727.43 L257.13,727.42 L256.8,727.41 L256.44,727.39 L256.01,727.36 L255.43,727.31 L254.62,727.22 L253.98,727.14 L253.32,726.96 L252.72,726.68 L252.19,726.3 L251.76,725.82 L251.44,725.26 L251.26,724.65 L251.23,724.1 L253.12,723.9 L253.18,724.23 L253.27,724.4 L253.38,724.53 L253.53,724.64 L253.73,724.74 L253.98,724.8 L254.3,724.84 L254.73,724.83 L255.51,724.8 L256.05,724.78 L256.43,724.75 L256.73,724.72 L257.05,724.68 L257.46,724.64 L258.04,724.61 L258.87,724.58 L259.76,724.61 L260.62,724.73 L261.43,724.98 L262.19,725.38 L262.84,725.98 L263.25,726.77 L263.38,727.63 L263.3,728.42Z"/><circle cx="242" cy="728.5" r="0.95"/><circle cx="262.35" cy="728.5" r="0.95"/></g>
<line x1="291" y1="594" x2="291" y2="605.6" stroke="#000" stroke-width="0.95"/><path d="M288.5,596.8 L291,594.3 L293.5,596.8" fill="none" stroke="#000" stroke-width="0.95"/>
<g fill="#000"><path d="M281.95,610.45 L282.11,610.03 L282.28,609.91 L282.41,609.9 L282.54,609.85 L282.8,609.79 L283.22,609.73 L283.79,609.7 L284.52,609.68 L285.28,609.66 L285.83,609.64 L286.23,609.63 L286.56,609.61 L286.92,609.6 L287.36,609.56 L287.94,609.51 L288.76,609.42 L289.39,609.34 L290.04,609.16 L290.62,608.91 L291.13,608.57 L291.56,608.15 L291.89,607.66 L292.09,607.1 L292.14,606.63 L290.26,606.37 L290.21,606.59 L290.15,606.67 L290.05,606.76 L289.9,606.86 L289.68,606.95 L289.41,607.02 L289.08,607.05 L288.64,607.04 L287.87,607.01 L287.32,606.99 L286.94,606.96 L286.64,606.93 L286.31,606.89 L285.89,606.85 L285.31,606.81 L284.48,606.78 L283.59,606.82 L282.75,606.94 L281.96,607.16 L281.23,607.51 L280.59,608.04 L280.17,608.77 L280,609.56 L280.05,610.25Z"/><path d="M300.45,610.45 L300.29,610.03 L300.12,609.91 L299.99,609.9 L299.86,609.85 L299.6,609.79 L299.18,609.73 L298.61,609.7 L297.88,609.68 L297.12,609.66 L296.57,609.64 L296.17,609.63 L295.84,609.61 L295.48,609.6 L295.04,609.56 L294.46,609.51 L293.64,609.42 L293.01,609.34 L292.36,609.16 L291.78,608.91 L291.27,608.57 L290.84,608.15 L290.51,607.66 L290.31,607.1 L290.26,606.63 L292.14,606.37 L292.19,606.59 L292.25,606.67 L292.35,606.76 L292.5,606.86 L292.72,606.95 L292.99,607.02 L293.32,607.05 L293.76,607.04 L294.53,607.01 L295.08,606.99 L295.46,606.96 L295.76,606.93 L296.09,606.89 L296.51,606.85 L297.09,606.81 L297.92,606.78 L298.81,606.82 L299.65,606.94 L300.44,607.16 L301.17,607.51 L301.81,608.04 L302.23,608.77 L302.4,609.56 L302.35,610.25Z"/><circle cx="281" cy="610.35" r="0.95"/><circle cx="301.4" cy="610.35" r="0.95"/></g>
</g>
<line x1="44.1" y1="604.05" x2="59.1" y2="604.05" stroke="#2ca02c" stroke-width="1.4"/>
<line x1="44.1" y1="617.85" x2="59.1" y2="617.85" stroke="#ff4d4d" stroke-width="1.6"/>
<text x="68.6" y="607.85" font-family='"Liberation Serif", serif' font-weight="bold" font-size="9.5">Control - C</text>
<text x="68.6" y="621.15" font-family='"Liberation Serif", serif' font-weight="bold" font-size="9.5">Stimulated - MC</text>
<rect x="33.1" y="592.25" width="285" height="236.35" fill="none" stroke="#111" stroke-width="1.35"/>
<line x1="58.15" y1="592.25" x2="58.15" y2="594.75" stroke="#999" stroke-width="0.6"/>
<line x1="58.15" y1="828.6" x2="58.15" y2="826.1" stroke="#999" stroke-width="0.6"/>
<line x1="97.15" y1="592.25" x2="97.15" y2="594.75" stroke="#999" stroke-width="0.6"/>
<line x1="97.15" y1="828.6" x2="97.15" y2="826.1" stroke="#999" stroke-width="0.6"/>
<line x1="136.15" y1="592.25" x2="136.15" y2="594.75" stroke="#999" stroke-width="0.6"/>
<line x1="136.15" y1="828.6" x2="136.15" y2="826.1" stroke="#999" stroke-width="0.6"/>
<line x1="175.15" y1="592.25" x2="175.15" y2="594.75" stroke="#999" stroke-width="0.6"/>
<line x1="175.15" y1="828.6" x2="175.15" y2="826.1" stroke="#999" stroke-width="0.6"/>
<line x1="214.15" y1="592.25" x2="214.15" y2="594.75" stroke="#999" stroke-width="0.6"/>
<line x1="214.15" y1="828.6" x2="214.15" y2="826.1" stroke="#999" stroke-width="0.6"/>
<line x1="253.15" y1="592.25" x2="253.15" y2="594.75" stroke="#999" stroke-width="0.6"/>
<line x1="253.15" y1="828.6" x2="253.15" y2="826.1" stroke="#999" stroke-width="0.6"/>
<line x1="292.15" y1="592.25" x2="292.15" y2="594.75" stroke="#999" stroke-width="0.6"/>
<line x1="292.15" y1="828.6" x2="292.15" y2="826.1" stroke="#999" stroke-width="0.6"/>
<line x1="33.1" y1="592.25" x2="35.6" y2="592.25" stroke="#999" stroke-width="0.6"/>
<line x1="318.1" y1="592.25" x2="315.6" y2="592.25" stroke="#999" stroke-width="0.6"/>
<text x="30.8" y="595.4" font-family='"Liberation Serif", serif' font-weight="bold" font-style="italic" font-size="9.6" text-anchor="end">0.12</text>
<line x1="33.1" y1="631.7" x2="35.6" y2="631.7" stroke="#999" stroke-width="0.6"/>
<line x1="318.1" y1="631.7" x2="315.6" y2="631.7" stroke="#999" stroke-width="0.6"/>
<text x="30.8" y="634.85" font-family='"Liberation Serif", serif' font-weight="bold" font-style="italic" font-size="9.6" text-anchor="end">0.10</text>
<line x1="33.1" y1="671.2" x2="35.6" y2="671.2" stroke="#999" stroke-width="0.6"/>
<line x1="318.1" y1="671.2" x2="315.6" y2="671.2" stroke="#999" stroke-width="0.6"/>
<text x="30.8" y="674.35" font-family='"Liberation Serif", serif' font-weight="bold" font-style="italic" font-size="9.6" text-anchor="end">0.08</text>
<line x1="33.1" y1="710.6" x2="35.6" y2="710.6" stroke="#999" stroke-width="0.6"/>
<line x1="318.1" y1="710.6" x2="315.6" y2="710.6" stroke="#999" stroke-width="0.6"/>
<text x="30.8" y="713.75" font-family='"Liberation Serif", serif' font-weight="bold" font-style="italic" font-size="9.6" text-anchor="end">0.06</text>
<line x1="33.1" y1="750.1" x2="35.6" y2="750.1" stroke="#999" stroke-width="0.6"/>
<line x1="318.1" y1="750.1" x2="315.6" y2="750.1" stroke="#999" stroke-width="0.6"/>
<text x="30.8" y="753.25" font-family='"Liberation Serif", serif' font-weight="bold" font-style="italic" font-size="9.6" text-anchor="end">0.04</text>
<line x1="33.1" y1="789.5" x2="35.6" y2="789.5" stroke="#999" stroke-width="0.6"/>
<line x1="318.1" y1="789.5" x2="315.6" y2="789.5" stroke="#999" stroke-width="0.6"/>
<text x="30.8" y="792.65" font-family='"Liberation Serif", serif' font-weight="bold" font-style="italic" font-size="9.6" text-anchor="end">0.02</text>
<line x1="33.1" y1="829" x2="35.6" y2="829" stroke="#999" stroke-width="0.6"/>
<line x1="318.1" y1="829" x2="315.6" y2="829" stroke="#999" stroke-width="0.6"/>
<text x="30.8" y="832.15" font-family='"Liberation Serif", serif' font-weight="bold" font-style="italic" font-size="9.6" text-anchor="end">0.00</text>
<text x="58.15" y="839.8" font-family='"Liberation Serif", serif' font-weight="bold" font-style="italic" font-size="10.2" text-anchor="middle">DMV</text>
<text x="97.15" y="839.8" font-family='"Liberation Serif", serif' font-weight="bold" font-style="italic" font-size="10.2" text-anchor="middle">VTA</text>
<text x="136.15" y="839.8" font-family='"Liberation Serif", serif' font-weight="bold" font-style="italic" font-size="10.2" text-anchor="middle">SN</text>
<text x="175.15" y="839.8" font-family='"Liberation Serif", serif' font-weight="bold" font-style="italic" font-size="10.2" text-anchor="middle">NAC</text>
<text x="214.15" y="839.8" font-family='"Liberation Serif", serif' font-weight="bold" font-style="italic" font-size="10.2" text-anchor="middle">STR_E</text>
<text x="253.15" y="839.8" font-family='"Liberation Serif", serif' font-weight="bold" font-style="italic" font-size="10.2" text-anchor="middle">STR_F</text>
<text x="292.15" y="839.8" font-family='"Liberation Serif", serif' font-weight="bold" font-style="italic" font-size="10.2" text-anchor="middle">CX</text>
<text x="175.6" y="854.4" font-family='"Liberation Serif", serif' font-weight="bold" font-size="12.8" text-anchor="middle">Brain structure</text>
<text x="168.8" y="868.9" font-family='"Liberation Serif", serif' font-weight="bold" font-size="14.5" text-anchor="middle">(c)</text>
<text transform="translate(12.8,118.25) rotate(-90)" font-family='"Liberation Serif", serif' font-weight="bold" font-size="12.55" text-anchor="middle">Total fatty acyl chain absorptions</text>
<text transform="translate(12.5,531.1) rotate(-90)" font-family='"Liberation Serif", serif' font-size="12.5" font-weight="bold">Fatty acyl chain length</text>
<text transform="translate(13.3,404.7) rotate(-90)" font-family='"Liberation Serif", serif' font-size="13.2" font-style="italic" stroke="#000" stroke-width="0.4">ν</text>
<text transform="translate(15.6,398) rotate(-90)" font-family='"Liberation Serif", serif' font-size="9.4" font-style="italic" stroke="#000" stroke-width="0.3">as</text>
<text transform="translate(13,388.5) rotate(-90)" font-family='"Liberation Serif", serif' font-size="14.5" stroke="#000" stroke-width="0.2">(</text>
<text transform="translate(13.3,384.5) rotate(-90)" font-family='"Liberation Serif", serif' font-size="13.2" font-style="italic" stroke="#000" stroke-width="0.4">C</text>
<text transform="translate(13.3,375.8) rotate(-90)" font-family='"Liberation Serif", serif' font-size="13.2" font-style="italic" stroke="#000" stroke-width="0.4">H</text>
<text transform="translate(16,364.4) rotate(-90)" font-family='"Liberation Serif", serif' font-size="9.4" stroke="#000" stroke-width="0.3">2</text>
<text transform="translate(13,359.7) rotate(-90)" font-family='"Liberation Serif", serif' font-size="14.5" stroke="#000" stroke-width="0.2">)</text>
<text transform="translate(13.6,354) rotate(-90)" font-family='"Liberation Serif", serif' font-size="15.5">/</text>
<text transform="translate(13.3,347.5) rotate(-90)" font-family='"Liberation Serif", serif' font-size="13.2" font-style="italic" stroke="#000" stroke-width="0.4">ν</text>
<text transform="translate(15.6,341.9) rotate(-90)" font-family='"Liberation Serif", serif' font-size="9.4" font-style="italic" stroke="#000" stroke-width="0.3">as</text>
<text transform="translate(13,332) rotate(-90)" font-family='"Liberation Serif", serif' font-size="14.5" stroke="#000" stroke-width="0.2">(</text>
<text transform="translate(13.3,327.5) rotate(-90)" font-family='"Liberation Serif", serif' font-size="13.2" font-style="italic" stroke="#000" stroke-width="0.4">C</text>
<text transform="translate(13.3,318.6) rotate(-90)" font-family='"Liberation Serif", serif' font-size="13.2" font-style="italic" stroke="#000" stroke-width="0.4">H</text>
<text transform="translate(16,307.3) rotate(-90)" font-family='"Liberation Serif", serif' font-size="9.4" stroke="#000" stroke-width="0.3">3</text>
<text transform="translate(13,302.2) rotate(-90)" font-family='"Liberation Serif", serif' font-size="14.5" stroke="#000" stroke-width="0.2">)</text>
<text transform="translate(8.3,815.4) rotate(-90)" font-family='"Liberation Serif", serif' font-size="10.05" font-weight="bold">Fatty acyl chain unsaturation</text>
<text transform="translate(8.1,685.75) rotate(-90)" font-family='"Liberation Serif", serif' font-size="9" font-weight="bold" font-style="italic">ν</text>
<text transform="translate(8.6,679.6) rotate(-90)" font-family='"Liberation Serif", serif' font-size="11.5">=</text>
<text transform="translate(9.2,669.75) rotate(-90)" font-family='"Liberation Serif", serif' font-size="13">(</text>
<text transform="translate(8.1,663.4) rotate(-90)" font-family='"Liberation Serif", serif' font-size="9" font-weight="bold" font-style="italic">C</text>
<text transform="translate(8.1,657.9) rotate(-90)" font-family='"Liberation Serif", serif' font-size="9" font-weight="bold" font-style="italic">H</text>
<text transform="translate(9.2,651.75) rotate(-90)" font-family='"Liberation Serif", serif' font-size="13">)</text>
<text transform="translate(8.6,647.4) rotate(-90)" font-family='"Liberation Serif", serif' font-size="11.5">/</text>
<text transform="translate(8.1,640.6) rotate(-90)" font-family='"Liberation Serif", serif' font-size="9" font-weight="bold" font-style="italic">ν</text>
<text transform="translate(9.9,635) rotate(-90)" font-family='"Liberation Serif", serif' font-size="7" font-weight="bold" font-style="italic">as</text>
<text transform="translate(9.2,628.25) rotate(-90)" font-family='"Liberation Serif", serif' font-size="13">(</text>
<text transform="translate(8.1,624.1) rotate(-90)" font-family='"Liberation Serif", serif' font-size="9" font-weight="bold" font-style="italic">C</text>
<text transform="translate(8.1,618.1) rotate(-90)" font-family='"Liberation Serif", serif' font-size="9" font-weight="bold" font-style="italic">H</text>
<text transform="translate(10.2,611) rotate(-90)" font-family='"Liberation Serif", serif' font-size="7" font-weight="bold">3</text>
<text transform="translate(9.2,606.1) rotate(-90)" font-family='"Liberation Serif", serif' font-size="13">)</text>
</svg></body></html>
